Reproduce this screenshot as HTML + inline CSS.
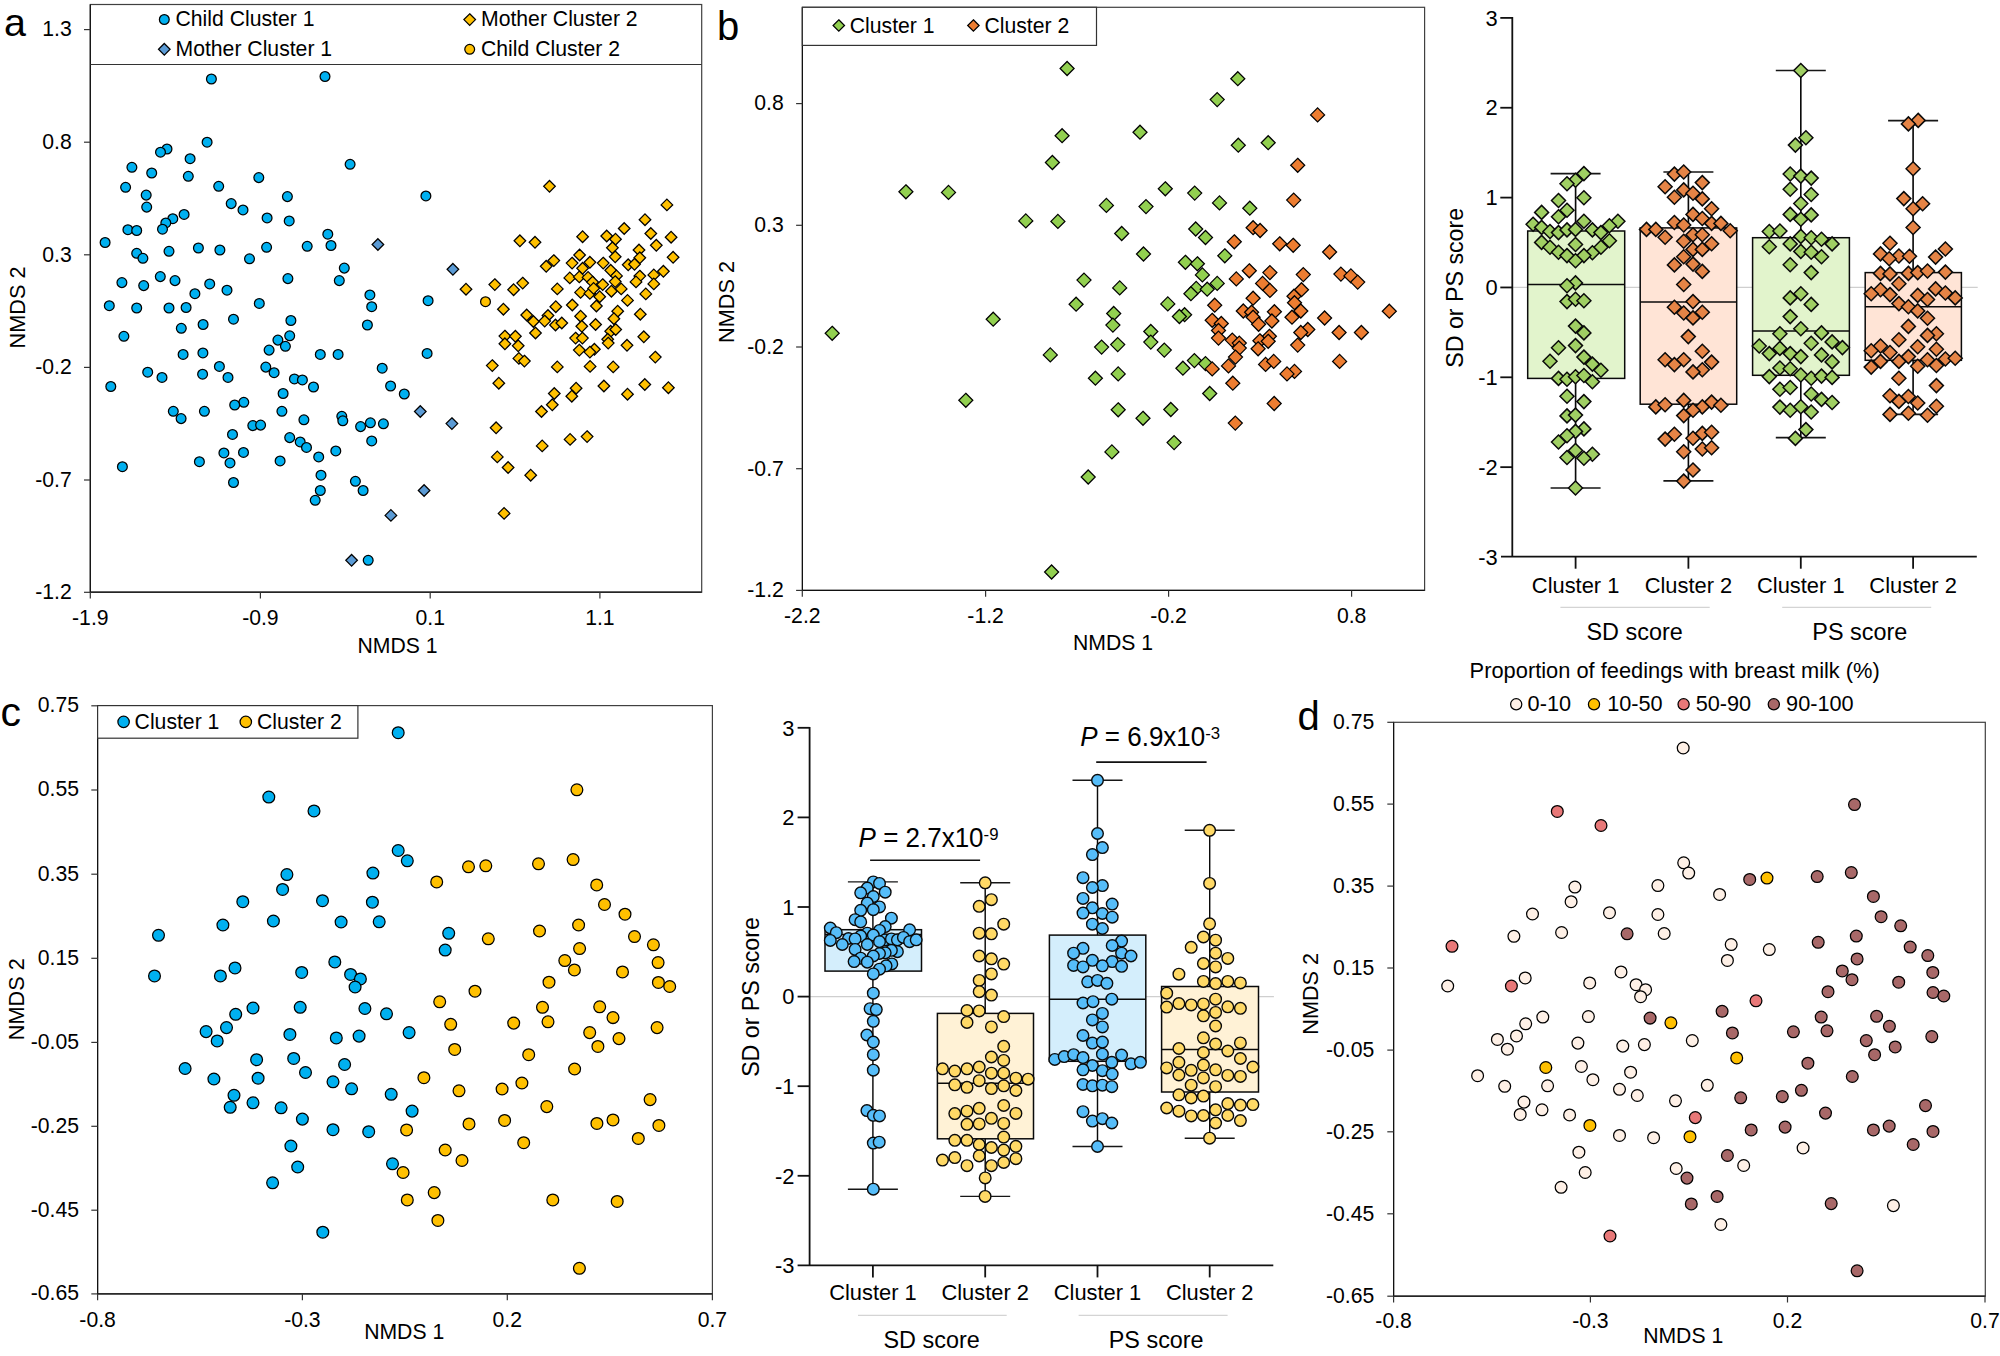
<!DOCTYPE html>
<html><head><meta charset="utf-8"><title>Figure</title>
<style>html,body{margin:0;padding:0;background:#fff}svg{display:block}</style></head>
<body><svg width="2000" height="1356" viewBox="0 0 2000 1356" font-family='"Liberation Sans", Arial, Helvetica, sans-serif' fill="#000">
<rect width="2000" height="1356" fill="#fff"/>
<text transform="translate(4 35.7) scale(1 1)" font-size="39.5" text-anchor="start">a</text>
<rect x="90.3" y="4.5" width="611.4000000000001" height="587.7" fill="none" stroke="#404040" stroke-width="1.2"/>
<path d="M90.3 4.5V592.2H701.7" fill="none" stroke="#111" stroke-width="1.2"/>
<line x1="90.3" y1="592.2" x2="90.3" y2="598.5" stroke="#333" stroke-width="1.2"/>
<text transform="translate(90.3 624.9) scale(1 1.035)" font-size="21.2" text-anchor="middle">-1.9</text>
<line x1="260.4" y1="592.2" x2="260.4" y2="598.5" stroke="#333" stroke-width="1.2"/>
<text transform="translate(260.4 624.9) scale(1 1.035)" font-size="21.2" text-anchor="middle">-0.9</text>
<line x1="430.2" y1="592.2" x2="430.2" y2="598.5" stroke="#333" stroke-width="1.2"/>
<text transform="translate(430.2 624.9) scale(1 1.035)" font-size="21.2" text-anchor="middle">0.1</text>
<line x1="599.9" y1="592.2" x2="599.9" y2="598.5" stroke="#333" stroke-width="1.2"/>
<text transform="translate(599.9 624.9) scale(1 1.035)" font-size="21.2" text-anchor="middle">1.1</text>
<line x1="84.0" y1="29.6" x2="90.3" y2="29.6" stroke="#333" stroke-width="1.2"/>
<text transform="translate(71.7 36.4) scale(1 1.035)" font-size="21.2" text-anchor="end">1.3</text>
<line x1="84.0" y1="142.2" x2="90.3" y2="142.2" stroke="#333" stroke-width="1.2"/>
<text transform="translate(71.7 149.0) scale(1 1.035)" font-size="21.2" text-anchor="end">0.8</text>
<line x1="84.0" y1="254.8" x2="90.3" y2="254.8" stroke="#333" stroke-width="1.2"/>
<text transform="translate(71.7 261.6) scale(1 1.035)" font-size="21.2" text-anchor="end">0.3</text>
<line x1="84.0" y1="367.4" x2="90.3" y2="367.4" stroke="#333" stroke-width="1.2"/>
<text transform="translate(71.7 374.2) scale(1 1.035)" font-size="21.2" text-anchor="end">-0.2</text>
<line x1="84.0" y1="480.0" x2="90.3" y2="480.0" stroke="#333" stroke-width="1.2"/>
<text transform="translate(71.7 486.8) scale(1 1.035)" font-size="21.2" text-anchor="end">-0.7</text>
<line x1="84.0" y1="592.3" x2="90.3" y2="592.3" stroke="#333" stroke-width="1.2"/>
<text transform="translate(71.7 599.1) scale(1 1.035)" font-size="21.2" text-anchor="end">-1.2</text>
<line x1="90.3" y1="64.5" x2="701.7" y2="64.5" stroke="#333" stroke-width="1.2"/>
<g fill="#00b0f0" stroke="#000" stroke-width="1.25">
<circle cx="164.3" cy="19.5" r="4.9"/>
</g>
<text transform="translate(175.5 26.4) scale(1 1.035)" font-size="21.2" text-anchor="start">Child Cluster 1</text>
<g fill="#5b9bd5" stroke="#000" stroke-width="1.25" stroke-linejoin="miter">
<path d="M164.3 43.5l5.8 5.8l-5.8 5.8l-5.8 -5.8z"/>
</g>
<text transform="translate(175.5 55.9) scale(1 1.035)" font-size="21.2" text-anchor="start">Mother Cluster 1</text>
<g fill="#ffc000" stroke="#000" stroke-width="1.25" stroke-linejoin="miter">
<path d="M469.7 13.8l5.8 5.8l-5.8 5.8l-5.8 -5.8z"/>
</g>
<text transform="translate(481 26.4) scale(1 1.035)" font-size="21.2" text-anchor="start">Mother Cluster 2</text>
<g fill="#ffc000" stroke="#000" stroke-width="1.25">
<circle cx="469.7" cy="49.3" r="4.9"/>
</g>
<text transform="translate(481 55.9) scale(1 1.035)" font-size="21.2" text-anchor="start">Child Cluster 2</text>
<text transform="translate(25 307.5) rotate(-90) scale(1 1.01)" font-size="21.7" text-anchor="middle">NMDS 2</text>
<text transform="translate(397.6 653) scale(1 1.035)" font-size="21.2" text-anchor="middle">NMDS 1</text>
<g fill="#00b0f0" stroke="#000" stroke-width="1.25">
<circle cx="211.4" cy="79.0" r="4.9"/><circle cx="325.0" cy="76.5" r="4.9"/><circle cx="207.1" cy="142.2" r="4.9"/><circle cx="167.0" cy="149.0" r="4.9"/><circle cx="160.5" cy="152.2" r="4.9"/><circle cx="190.1" cy="158.7" r="4.9"/><circle cx="131.9" cy="167.3" r="4.9"/><circle cx="151.7" cy="173.0" r="4.9"/><circle cx="188.3" cy="176.3" r="4.9"/><circle cx="258.8" cy="177.6" r="4.9"/><circle cx="350.1" cy="164.3" r="4.9"/><circle cx="125.6" cy="187.3" r="4.9"/><circle cx="218.7" cy="186.3" r="4.9"/><circle cx="146.2" cy="195.1" r="4.9"/><circle cx="287.4" cy="196.6" r="4.9"/><circle cx="146.7" cy="207.1" r="4.9"/><circle cx="231.2" cy="203.6" r="4.9"/><circle cx="243.0" cy="209.9" r="4.9"/><circle cx="184.1" cy="214.4" r="4.9"/><circle cx="172.8" cy="218.7" r="4.9"/><circle cx="267.1" cy="217.9" r="4.9"/><circle cx="289.2" cy="220.9" r="4.9"/><circle cx="165.8" cy="222.9" r="4.9"/><circle cx="162.5" cy="229.2" r="4.9"/><circle cx="127.9" cy="229.7" r="4.9"/><circle cx="136.7" cy="230.5" r="4.9"/><circle cx="327.8" cy="234.2" r="4.9"/><circle cx="105.1" cy="242.5" r="4.9"/><circle cx="331.0" cy="245.5" r="4.9"/><circle cx="198.4" cy="248.0" r="4.9"/><circle cx="219.9" cy="250.0" r="4.9"/><circle cx="266.6" cy="247.3" r="4.9"/><circle cx="307.2" cy="246.3" r="4.9"/><circle cx="169.0" cy="251.3" r="4.9"/><circle cx="136.7" cy="253.3" r="4.9"/><circle cx="142.9" cy="258.3" r="4.9"/><circle cx="249.5" cy="258.8" r="4.9"/><circle cx="344.3" cy="268.1" r="4.9"/><circle cx="160.3" cy="276.6" r="4.9"/><circle cx="175.0" cy="280.6" r="4.9"/><circle cx="121.9" cy="282.6" r="4.9"/><circle cx="143.7" cy="285.6" r="4.9"/><circle cx="209.7" cy="283.9" r="4.9"/><circle cx="287.9" cy="278.6" r="4.9"/><circle cx="339.3" cy="280.6" r="4.9"/><circle cx="227.0" cy="290.2" r="4.9"/><circle cx="194.9" cy="293.7" r="4.9"/><circle cx="369.9" cy="294.9" r="4.9"/><circle cx="109.3" cy="305.7" r="4.9"/><circle cx="136.7" cy="308.0" r="4.9"/><circle cx="169.0" cy="308.0" r="4.9"/><circle cx="186.1" cy="307.5" r="4.9"/><circle cx="259.3" cy="303.4" r="4.9"/><circle cx="371.7" cy="306.7" r="4.9"/><circle cx="233.5" cy="319.2" r="4.9"/><circle cx="290.9" cy="320.5" r="4.9"/><circle cx="203.1" cy="324.5" r="4.9"/><circle cx="181.3" cy="328.3" r="4.9"/><circle cx="367.4" cy="325.0" r="4.9"/><circle cx="123.9" cy="336.3" r="4.9"/><circle cx="289.7" cy="335.8" r="4.9"/><circle cx="277.9" cy="340.1" r="4.9"/><circle cx="285.4" cy="346.3" r="4.9"/><circle cx="269.1" cy="350.1" r="4.9"/><circle cx="183.1" cy="354.4" r="4.9"/><circle cx="202.9" cy="352.9" r="4.9"/><circle cx="320.3" cy="354.4" r="4.9"/><circle cx="338.1" cy="354.4" r="4.9"/><circle cx="219.4" cy="366.4" r="4.9"/><circle cx="265.8" cy="367.1" r="4.9"/><circle cx="382.2" cy="368.2" r="4.9"/><circle cx="147.7" cy="372.2" r="4.9"/><circle cx="202.6" cy="374.2" r="4.9"/><circle cx="274.1" cy="372.7" r="4.9"/><circle cx="162.0" cy="377.4" r="4.9"/><circle cx="228.0" cy="377.4" r="4.9"/><circle cx="294.4" cy="378.9" r="4.9"/><circle cx="302.4" cy="379.9" r="4.9"/><circle cx="110.8" cy="386.5" r="4.9"/><circle cx="313.5" cy="387.0" r="4.9"/><circle cx="390.6" cy="386.0" r="4.9"/><circle cx="283.1" cy="393.5" r="4.9"/><circle cx="243.8" cy="402.3" r="4.9"/><circle cx="234.7" cy="405.0" r="4.9"/><circle cx="173.3" cy="411.3" r="4.9"/><circle cx="204.4" cy="411.3" r="4.9"/><circle cx="281.9" cy="411.3" r="4.9"/><circle cx="181.1" cy="418.6" r="4.9"/><circle cx="303.9" cy="419.8" r="4.9"/><circle cx="341.8" cy="416.3" r="4.9"/><circle cx="342.8" cy="420.8" r="4.9"/><circle cx="370.4" cy="422.8" r="4.9"/><circle cx="383.4" cy="423.8" r="4.9"/><circle cx="252.8" cy="425.6" r="4.9"/><circle cx="260.6" cy="425.1" r="4.9"/><circle cx="360.6" cy="426.6" r="4.9"/><circle cx="232.5" cy="434.4" r="4.9"/><circle cx="289.7" cy="437.6" r="4.9"/><circle cx="300.2" cy="441.9" r="4.9"/><circle cx="371.7" cy="440.9" r="4.9"/><circle cx="306.5" cy="447.4" r="4.9"/><circle cx="335.8" cy="450.9" r="4.9"/><circle cx="223.9" cy="452.9" r="4.9"/><circle cx="243.5" cy="452.4" r="4.9"/><circle cx="318.7" cy="456.9" r="4.9"/><circle cx="199.4" cy="461.7" r="4.9"/><circle cx="230.0" cy="462.9" r="4.9"/><circle cx="280.1" cy="460.9" r="4.9"/><circle cx="122.4" cy="466.7" r="4.9"/><circle cx="321.0" cy="475.2" r="4.9"/><circle cx="233.5" cy="482.5" r="4.9"/><circle cx="355.4" cy="481.3" r="4.9"/><circle cx="363.1" cy="490.5" r="4.9"/><circle cx="320.3" cy="490.5" r="4.9"/><circle cx="315.2" cy="500.3" r="4.9"/><circle cx="368.2" cy="560.3" r="4.9"/><circle cx="425.9" cy="195.9" r="4.9"/><circle cx="428.1" cy="300.7" r="4.9"/><circle cx="427.1" cy="353.4" r="4.9"/><circle cx="404.3" cy="394.0" r="4.9"/>
</g>
<g fill="#ffc000" stroke="#000" stroke-width="1.25">
<circle cx="485.5" cy="301.7" r="4.9"/>
</g>
<g fill="#5b9bd5" stroke="#000" stroke-width="1.25" stroke-linejoin="miter">
<path d="M377.9 238.7l5.8 5.8l-5.8 5.8l-5.8 -5.8z"/><path d="M390.9 509.6l5.8 5.8l-5.8 5.8l-5.8 -5.8z"/><path d="M351.6 554.5l5.8 5.8l-5.8 5.8l-5.8 -5.8z"/><path d="M452.9 263.5l5.8 5.8l-5.8 5.8l-5.8 -5.8z"/><path d="M420.3 405.7l5.8 5.8l-5.8 5.8l-5.8 -5.8z"/><path d="M451.9 417.8l5.8 5.8l-5.8 5.8l-5.8 -5.8z"/><path d="M424.1 484.7l5.8 5.8l-5.8 5.8l-5.8 -5.8z"/>
</g>
<g fill="#ffc000" stroke="#000" stroke-width="1.25" stroke-linejoin="miter">
<path d="M549.5 180.5l5.8 5.8l-5.8 5.8l-5.8 -5.8z"/><path d="M666.9 199.1l5.8 5.8l-5.8 5.8l-5.8 -5.8z"/><path d="M645.0 213.9l5.8 5.8l-5.8 5.8l-5.8 -5.8z"/><path d="M624.2 222.7l5.8 5.8l-5.8 5.8l-5.8 -5.8z"/><path d="M582.6 230.9l5.8 5.8l-5.8 5.8l-5.8 -5.8z"/><path d="M606.7 230.2l5.8 5.8l-5.8 5.8l-5.8 -5.8z"/><path d="M615.5 233.4l5.8 5.8l-5.8 5.8l-5.8 -5.8z"/><path d="M650.8 227.7l5.8 5.8l-5.8 5.8l-5.8 -5.8z"/><path d="M671.1 231.4l5.8 5.8l-5.8 5.8l-5.8 -5.8z"/><path d="M519.9 235.0l5.8 5.8l-5.8 5.8l-5.8 -5.8z"/><path d="M535.0 236.5l5.8 5.8l-5.8 5.8l-5.8 -5.8z"/><path d="M612.4 242.0l5.8 5.8l-5.8 5.8l-5.8 -5.8z"/><path d="M639.0 244.2l5.8 5.8l-5.8 5.8l-5.8 -5.8z"/><path d="M656.3 239.5l5.8 5.8l-5.8 5.8l-5.8 -5.8z"/><path d="M579.6 249.2l5.8 5.8l-5.8 5.8l-5.8 -5.8z"/><path d="M615.2 251.0l5.8 5.8l-5.8 5.8l-5.8 -5.8z"/><path d="M673.1 251.5l5.8 5.8l-5.8 5.8l-5.8 -5.8z"/><path d="M639.8 252.0l5.8 5.8l-5.8 5.8l-5.8 -5.8z"/><path d="M553.8 254.8l5.8 5.8l-5.8 5.8l-5.8 -5.8z"/><path d="M546.2 260.5l5.8 5.8l-5.8 5.8l-5.8 -5.8z"/><path d="M572.1 257.3l5.8 5.8l-5.8 5.8l-5.8 -5.8z"/><path d="M589.9 256.5l5.8 5.8l-5.8 5.8l-5.8 -5.8z"/><path d="M603.2 257.3l5.8 5.8l-5.8 5.8l-5.8 -5.8z"/><path d="M628.2 259.0l5.8 5.8l-5.8 5.8l-5.8 -5.8z"/><path d="M634.5 258.5l5.8 5.8l-5.8 5.8l-5.8 -5.8z"/><path d="M582.6 262.5l5.8 5.8l-5.8 5.8l-5.8 -5.8z"/><path d="M610.7 264.5l5.8 5.8l-5.8 5.8l-5.8 -5.8z"/><path d="M663.4 265.5l5.8 5.8l-5.8 5.8l-5.8 -5.8z"/><path d="M616.5 270.1l5.8 5.8l-5.8 5.8l-5.8 -5.8z"/><path d="M639.8 270.3l5.8 5.8l-5.8 5.8l-5.8 -5.8z"/><path d="M653.8 269.1l5.8 5.8l-5.8 5.8l-5.8 -5.8z"/><path d="M569.8 272.1l5.8 5.8l-5.8 5.8l-5.8 -5.8z"/><path d="M579.3 271.1l5.8 5.8l-5.8 5.8l-5.8 -5.8z"/><path d="M588.1 271.6l5.8 5.8l-5.8 5.8l-5.8 -5.8z"/><path d="M592.6 276.3l5.8 5.8l-5.8 5.8l-5.8 -5.8z"/><path d="M602.7 278.8l5.8 5.8l-5.8 5.8l-5.8 -5.8z"/><path d="M615.2 275.8l5.8 5.8l-5.8 5.8l-5.8 -5.8z"/><path d="M636.0 276.1l5.8 5.8l-5.8 5.8l-5.8 -5.8z"/><path d="M653.8 278.1l5.8 5.8l-5.8 5.8l-5.8 -5.8z"/><path d="M494.8 278.8l5.8 5.8l-5.8 5.8l-5.8 -5.8z"/><path d="M522.7 277.3l5.8 5.8l-5.8 5.8l-5.8 -5.8z"/><path d="M466.0 283.4l5.8 5.8l-5.8 5.8l-5.8 -5.8z"/><path d="M513.6 283.9l5.8 5.8l-5.8 5.8l-5.8 -5.8z"/><path d="M557.3 283.1l5.8 5.8l-5.8 5.8l-5.8 -5.8z"/><path d="M580.6 286.6l5.8 5.8l-5.8 5.8l-5.8 -5.8z"/><path d="M589.9 287.6l5.8 5.8l-5.8 5.8l-5.8 -5.8z"/><path d="M593.6 282.6l5.8 5.8l-5.8 5.8l-5.8 -5.8z"/><path d="M611.4 285.4l5.8 5.8l-5.8 5.8l-5.8 -5.8z"/><path d="M621.2 283.1l5.8 5.8l-5.8 5.8l-5.8 -5.8z"/><path d="M599.7 290.9l5.8 5.8l-5.8 5.8l-5.8 -5.8z"/><path d="M645.8 288.1l5.8 5.8l-5.8 5.8l-5.8 -5.8z"/><path d="M627.5 294.6l5.8 5.8l-5.8 5.8l-5.8 -5.8z"/><path d="M572.3 299.2l5.8 5.8l-5.8 5.8l-5.8 -5.8z"/><path d="M596.4 300.2l5.8 5.8l-5.8 5.8l-5.8 -5.8z"/><path d="M555.8 300.9l5.8 5.8l-5.8 5.8l-5.8 -5.8z"/><path d="M503.4 303.4l5.8 5.8l-5.8 5.8l-5.8 -5.8z"/><path d="M617.7 305.4l5.8 5.8l-5.8 5.8l-5.8 -5.8z"/><path d="M640.3 308.4l5.8 5.8l-5.8 5.8l-5.8 -5.8z"/><path d="M526.7 309.2l5.8 5.8l-5.8 5.8l-5.8 -5.8z"/><path d="M548.0 309.7l5.8 5.8l-5.8 5.8l-5.8 -5.8z"/><path d="M580.6 310.4l5.8 5.8l-5.8 5.8l-5.8 -5.8z"/><path d="M613.9 312.9l5.8 5.8l-5.8 5.8l-5.8 -5.8z"/><path d="M533.4 315.7l5.8 5.8l-5.8 5.8l-5.8 -5.8z"/><path d="M544.7 315.3l5.8 5.8l-5.8 5.8l-5.8 -5.8z"/><path d="M555.5 319.2l5.8 5.8l-5.8 5.8l-5.8 -5.8z"/><path d="M561.8 317.2l5.8 5.8l-5.8 5.8l-5.8 -5.8z"/><path d="M581.8 320.5l5.8 5.8l-5.8 5.8l-5.8 -5.8z"/><path d="M595.6 318.7l5.8 5.8l-5.8 5.8l-5.8 -5.8z"/><path d="M610.7 325.5l5.8 5.8l-5.8 5.8l-5.8 -5.8z"/><path d="M615.7 323.7l5.8 5.8l-5.8 5.8l-5.8 -5.8z"/><path d="M535.5 327.2l5.8 5.8l-5.8 5.8l-5.8 -5.8z"/><path d="M504.9 330.3l5.8 5.8l-5.8 5.8l-5.8 -5.8z"/><path d="M515.4 330.5l5.8 5.8l-5.8 5.8l-5.8 -5.8z"/><path d="M643.8 331.0l5.8 5.8l-5.8 5.8l-5.8 -5.8z"/><path d="M575.6 332.3l5.8 5.8l-5.8 5.8l-5.8 -5.8z"/><path d="M582.4 332.3l5.8 5.8l-5.8 5.8l-5.8 -5.8z"/><path d="M607.7 333.5l5.8 5.8l-5.8 5.8l-5.8 -5.8z"/><path d="M504.9 338.0l5.8 5.8l-5.8 5.8l-5.8 -5.8z"/><path d="M518.2 340.0l5.8 5.8l-5.8 5.8l-5.8 -5.8z"/><path d="M608.2 337.3l5.8 5.8l-5.8 5.8l-5.8 -5.8z"/><path d="M627.0 339.5l5.8 5.8l-5.8 5.8l-5.8 -5.8z"/><path d="M579.3 344.3l5.8 5.8l-5.8 5.8l-5.8 -5.8z"/><path d="M594.4 343.5l5.8 5.8l-5.8 5.8l-5.8 -5.8z"/><path d="M589.9 346.3l5.8 5.8l-5.8 5.8l-5.8 -5.8z"/><path d="M655.3 351.3l5.8 5.8l-5.8 5.8l-5.8 -5.8z"/><path d="M518.9 352.6l5.8 5.8l-5.8 5.8l-5.8 -5.8z"/><path d="M524.4 355.3l5.8 5.8l-5.8 5.8l-5.8 -5.8z"/><path d="M492.3 359.8l5.8 5.8l-5.8 5.8l-5.8 -5.8z"/><path d="M557.3 361.1l5.8 5.8l-5.8 5.8l-5.8 -5.8z"/><path d="M590.1 360.6l5.8 5.8l-5.8 5.8l-5.8 -5.8z"/><path d="M613.2 361.1l5.8 5.8l-5.8 5.8l-5.8 -5.8z"/><path d="M498.8 377.4l5.8 5.8l-5.8 5.8l-5.8 -5.8z"/><path d="M603.9 380.2l5.8 5.8l-5.8 5.8l-5.8 -5.8z"/><path d="M644.8 378.7l5.8 5.8l-5.8 5.8l-5.8 -5.8z"/><path d="M668.4 381.9l5.8 5.8l-5.8 5.8l-5.8 -5.8z"/><path d="M576.1 382.4l5.8 5.8l-5.8 5.8l-5.8 -5.8z"/><path d="M554.3 387.7l5.8 5.8l-5.8 5.8l-5.8 -5.8z"/><path d="M627.5 388.4l5.8 5.8l-5.8 5.8l-5.8 -5.8z"/><path d="M571.8 390.4l5.8 5.8l-5.8 5.8l-5.8 -5.8z"/><path d="M552.3 399.0l5.8 5.8l-5.8 5.8l-5.8 -5.8z"/><path d="M541.5 405.7l5.8 5.8l-5.8 5.8l-5.8 -5.8z"/><path d="M496.1 422.0l5.8 5.8l-5.8 5.8l-5.8 -5.8z"/><path d="M587.1 430.8l5.8 5.8l-5.8 5.8l-5.8 -5.8z"/><path d="M570.1 433.6l5.8 5.8l-5.8 5.8l-5.8 -5.8z"/><path d="M542.2 440.1l5.8 5.8l-5.8 5.8l-5.8 -5.8z"/><path d="M497.3 451.1l5.8 5.8l-5.8 5.8l-5.8 -5.8z"/><path d="M508.1 461.7l5.8 5.8l-5.8 5.8l-5.8 -5.8z"/><path d="M530.7 469.4l5.8 5.8l-5.8 5.8l-5.8 -5.8z"/><path d="M504.1 507.6l5.8 5.8l-5.8 5.8l-5.8 -5.8z"/>
</g>
<text transform="translate(717 40) scale(1 1)" font-size="40" text-anchor="start">b</text>
<rect x="802.4" y="7.3" width="622.1999999999999" height="583.1" fill="none" stroke="#404040" stroke-width="1.2"/>
<path d="M802.4 7.3V590.4H1424.6" fill="none" stroke="#111" stroke-width="1.2"/>
<line x1="802.3" y1="590.4" x2="802.3" y2="596.6999999999999" stroke="#333" stroke-width="1.2"/>
<text transform="translate(802.3 623.1) scale(1 1.035)" font-size="21.2" text-anchor="middle">-2.2</text>
<line x1="985.6" y1="590.4" x2="985.6" y2="596.6999999999999" stroke="#333" stroke-width="1.2"/>
<text transform="translate(985.6 623.1) scale(1 1.035)" font-size="21.2" text-anchor="middle">-1.2</text>
<line x1="1168.6" y1="590.4" x2="1168.6" y2="596.6999999999999" stroke="#333" stroke-width="1.2"/>
<text transform="translate(1168.6 623.1) scale(1 1.035)" font-size="21.2" text-anchor="middle">-0.2</text>
<line x1="1351.6" y1="590.4" x2="1351.6" y2="596.6999999999999" stroke="#333" stroke-width="1.2"/>
<text transform="translate(1351.6 623.1) scale(1 1.035)" font-size="21.2" text-anchor="middle">0.8</text>
<line x1="796.1" y1="103.6" x2="802.4" y2="103.6" stroke="#333" stroke-width="1.2"/>
<text transform="translate(783.8 110.4) scale(1 1.035)" font-size="21.2" text-anchor="end">0.8</text>
<line x1="796.1" y1="225.3" x2="802.4" y2="225.3" stroke="#333" stroke-width="1.2"/>
<text transform="translate(783.8 232.1) scale(1 1.035)" font-size="21.2" text-anchor="end">0.3</text>
<line x1="796.1" y1="347.0" x2="802.4" y2="347.0" stroke="#333" stroke-width="1.2"/>
<text transform="translate(783.8 353.8) scale(1 1.035)" font-size="21.2" text-anchor="end">-0.2</text>
<line x1="796.1" y1="468.7" x2="802.4" y2="468.7" stroke="#333" stroke-width="1.2"/>
<text transform="translate(783.8 475.5) scale(1 1.035)" font-size="21.2" text-anchor="end">-0.7</text>
<line x1="796.1" y1="590.4" x2="802.4" y2="590.4" stroke="#333" stroke-width="1.2"/>
<text transform="translate(783.8 597.2) scale(1 1.035)" font-size="21.2" text-anchor="end">-1.2</text>
<rect x="802.4" y="7.3" width="294.1" height="38.1" fill="#fff" stroke="#333" stroke-width="1.2"/>
<g fill="#92d050" stroke="#000" stroke-width="1.25" stroke-linejoin="miter">
<path d="M838.8 19.8l5.7 5.7l-5.7 5.7l-5.7 -5.7z"/>
</g>
<text transform="translate(849.8 33) scale(1 1.035)" font-size="21.2" text-anchor="start">Cluster 1</text>
<g fill="#ed7d31" stroke="#000" stroke-width="1.25" stroke-linejoin="miter">
<path d="M973.4 19.8l5.7 5.7l-5.7 5.7l-5.7 -5.7z"/>
</g>
<text transform="translate(984.4 33) scale(1 1.035)" font-size="21.2" text-anchor="start">Cluster 2</text>
<text transform="translate(734 302) rotate(-90) scale(1 1.01)" font-size="21.7" text-anchor="middle">NMDS 2</text>
<text transform="translate(1113 649.5) scale(1 1.035)" font-size="21.2" text-anchor="middle">NMDS 1</text>
<g fill="#92d050" stroke="#000" stroke-width="1.25" stroke-linejoin="miter">
<path d="M1067.1 61.5l7.0 7.0l-7.0 7.0l-7.0 -7.0z"/><path d="M1062.1 128.7l7.0 7.0l-7.0 7.0l-7.0 -7.0z"/><path d="M1052.4 155.5l7.0 7.0l-7.0 7.0l-7.0 -7.0z"/><path d="M905.9 184.8l7.0 7.0l-7.0 7.0l-7.0 -7.0z"/><path d="M948.5 185.4l7.0 7.0l-7.0 7.0l-7.0 -7.0z"/><path d="M1025.8 213.9l7.0 7.0l-7.0 7.0l-7.0 -7.0z"/><path d="M1057.9 214.4l7.0 7.0l-7.0 7.0l-7.0 -7.0z"/><path d="M1084.0 273.1l7.0 7.0l-7.0 7.0l-7.0 -7.0z"/><path d="M1076.1 297.2l7.0 7.0l-7.0 7.0l-7.0 -7.0z"/><path d="M993.2 312.2l7.0 7.0l-7.0 7.0l-7.0 -7.0z"/><path d="M832.2 326.3l7.0 7.0l-7.0 7.0l-7.0 -7.0z"/><path d="M1050.3 347.9l7.0 7.0l-7.0 7.0l-7.0 -7.0z"/><path d="M965.8 393.3l7.0 7.0l-7.0 7.0l-7.0 -7.0z"/><path d="M1088.2 470.0l7.0 7.0l-7.0 7.0l-7.0 -7.0z"/><path d="M1051.6 565.0l7.0 7.0l-7.0 7.0l-7.0 -7.0z"/><path d="M1237.8 71.7l7.0 7.0l-7.0 7.0l-7.0 -7.0z"/><path d="M1217.2 92.6l7.0 7.0l-7.0 7.0l-7.0 -7.0z"/><path d="M1140.0 125.2l7.0 7.0l-7.0 7.0l-7.0 -7.0z"/><path d="M1238.3 138.2l7.0 7.0l-7.0 7.0l-7.0 -7.0z"/><path d="M1268.2 135.7l7.0 7.0l-7.0 7.0l-7.0 -7.0z"/><path d="M1165.3 181.8l7.0 7.0l-7.0 7.0l-7.0 -7.0z"/><path d="M1194.7 186.1l7.0 7.0l-7.0 7.0l-7.0 -7.0z"/><path d="M1106.4 198.4l7.0 7.0l-7.0 7.0l-7.0 -7.0z"/><path d="M1146.0 199.6l7.0 7.0l-7.0 7.0l-7.0 -7.0z"/><path d="M1219.5 195.9l7.0 7.0l-7.0 7.0l-7.0 -7.0z"/><path d="M1249.8 201.2l7.0 7.0l-7.0 7.0l-7.0 -7.0z"/><path d="M1195.7 222.0l7.0 7.0l-7.0 7.0l-7.0 -7.0z"/><path d="M1121.7 226.5l7.0 7.0l-7.0 7.0l-7.0 -7.0z"/><path d="M1205.5 230.5l7.0 7.0l-7.0 7.0l-7.0 -7.0z"/><path d="M1143.5 247.0l7.0 7.0l-7.0 7.0l-7.0 -7.0z"/><path d="M1224.8 248.8l7.0 7.0l-7.0 7.0l-7.0 -7.0z"/><path d="M1185.4 255.3l7.0 7.0l-7.0 7.0l-7.0 -7.0z"/><path d="M1197.4 256.8l7.0 7.0l-7.0 7.0l-7.0 -7.0z"/><path d="M1202.4 267.9l7.0 7.0l-7.0 7.0l-7.0 -7.0z"/><path d="M1119.7 280.9l7.0 7.0l-7.0 7.0l-7.0 -7.0z"/><path d="M1217.2 276.4l7.0 7.0l-7.0 7.0l-7.0 -7.0z"/><path d="M1196.2 281.4l7.0 7.0l-7.0 7.0l-7.0 -7.0z"/><path d="M1207.2 282.2l7.0 7.0l-7.0 7.0l-7.0 -7.0z"/><path d="M1190.9 286.7l7.0 7.0l-7.0 7.0l-7.0 -7.0z"/><path d="M1167.8 296.9l7.0 7.0l-7.0 7.0l-7.0 -7.0z"/><path d="M1113.7 306.5l7.0 7.0l-7.0 7.0l-7.0 -7.0z"/><path d="M1184.6 307.7l7.0 7.0l-7.0 7.0l-7.0 -7.0z"/><path d="M1179.4 309.5l7.0 7.0l-7.0 7.0l-7.0 -7.0z"/><path d="M1112.9 318.1l7.0 7.0l-7.0 7.0l-7.0 -7.0z"/><path d="M1150.8 324.5l7.0 7.0l-7.0 7.0l-7.0 -7.0z"/><path d="M1150.8 335.1l7.0 7.0l-7.0 7.0l-7.0 -7.0z"/><path d="M1101.6 340.1l7.0 7.0l-7.0 7.0l-7.0 -7.0z"/><path d="M1117.7 337.6l7.0 7.0l-7.0 7.0l-7.0 -7.0z"/><path d="M1164.3 343.1l7.0 7.0l-7.0 7.0l-7.0 -7.0z"/><path d="M1194.4 353.6l7.0 7.0l-7.0 7.0l-7.0 -7.0z"/><path d="M1205.5 356.6l7.0 7.0l-7.0 7.0l-7.0 -7.0z"/><path d="M1182.9 361.2l7.0 7.0l-7.0 7.0l-7.0 -7.0z"/><path d="M1118.2 366.9l7.0 7.0l-7.0 7.0l-7.0 -7.0z"/><path d="M1095.4 371.2l7.0 7.0l-7.0 7.0l-7.0 -7.0z"/><path d="M1209.7 386.5l7.0 7.0l-7.0 7.0l-7.0 -7.0z"/><path d="M1118.2 402.8l7.0 7.0l-7.0 7.0l-7.0 -7.0z"/><path d="M1170.8 402.5l7.0 7.0l-7.0 7.0l-7.0 -7.0z"/><path d="M1143.0 411.3l7.0 7.0l-7.0 7.0l-7.0 -7.0z"/><path d="M1174.1 435.6l7.0 7.0l-7.0 7.0l-7.0 -7.0z"/><path d="M1111.9 444.9l7.0 7.0l-7.0 7.0l-7.0 -7.0z"/>
</g>
<g fill="#ed7d31" stroke="#000" stroke-width="1.25" stroke-linejoin="miter">
<path d="M1317.6 107.9l7.0 7.0l-7.0 7.0l-7.0 -7.0z"/><path d="M1297.7 158.3l7.0 7.0l-7.0 7.0l-7.0 -7.0z"/><path d="M1293.7 193.1l7.0 7.0l-7.0 7.0l-7.0 -7.0z"/><path d="M1253.1 220.7l7.0 7.0l-7.0 7.0l-7.0 -7.0z"/><path d="M1260.1 223.5l7.0 7.0l-7.0 7.0l-7.0 -7.0z"/><path d="M1234.3 234.8l7.0 7.0l-7.0 7.0l-7.0 -7.0z"/><path d="M1279.7 236.8l7.0 7.0l-7.0 7.0l-7.0 -7.0z"/><path d="M1293.2 238.3l7.0 7.0l-7.0 7.0l-7.0 -7.0z"/><path d="M1329.6 245.0l7.0 7.0l-7.0 7.0l-7.0 -7.0z"/><path d="M1249.3 263.8l7.0 7.0l-7.0 7.0l-7.0 -7.0z"/><path d="M1269.9 265.6l7.0 7.0l-7.0 7.0l-7.0 -7.0z"/><path d="M1303.3 267.6l7.0 7.0l-7.0 7.0l-7.0 -7.0z"/><path d="M1340.9 267.1l7.0 7.0l-7.0 7.0l-7.0 -7.0z"/><path d="M1350.9 268.9l7.0 7.0l-7.0 7.0l-7.0 -7.0z"/><path d="M1357.7 275.1l7.0 7.0l-7.0 7.0l-7.0 -7.0z"/><path d="M1236.3 271.9l7.0 7.0l-7.0 7.0l-7.0 -7.0z"/><path d="M1262.6 276.4l7.0 7.0l-7.0 7.0l-7.0 -7.0z"/><path d="M1269.9 283.4l7.0 7.0l-7.0 7.0l-7.0 -7.0z"/><path d="M1301.5 282.7l7.0 7.0l-7.0 7.0l-7.0 -7.0z"/><path d="M1294.0 289.2l7.0 7.0l-7.0 7.0l-7.0 -7.0z"/><path d="M1253.1 291.2l7.0 7.0l-7.0 7.0l-7.0 -7.0z"/><path d="M1214.7 298.2l7.0 7.0l-7.0 7.0l-7.0 -7.0z"/><path d="M1294.5 295.7l7.0 7.0l-7.0 7.0l-7.0 -7.0z"/><path d="M1243.3 304.0l7.0 7.0l-7.0 7.0l-7.0 -7.0z"/><path d="M1251.6 305.2l7.0 7.0l-7.0 7.0l-7.0 -7.0z"/><path d="M1274.4 304.7l7.0 7.0l-7.0 7.0l-7.0 -7.0z"/><path d="M1300.8 304.0l7.0 7.0l-7.0 7.0l-7.0 -7.0z"/><path d="M1389.3 304.2l7.0 7.0l-7.0 7.0l-7.0 -7.0z"/><path d="M1212.2 313.3l7.0 7.0l-7.0 7.0l-7.0 -7.0z"/><path d="M1221.3 316.5l7.0 7.0l-7.0 7.0l-7.0 -7.0z"/><path d="M1253.1 310.2l7.0 7.0l-7.0 7.0l-7.0 -7.0z"/><path d="M1258.6 317.3l7.0 7.0l-7.0 7.0l-7.0 -7.0z"/><path d="M1271.9 314.0l7.0 7.0l-7.0 7.0l-7.0 -7.0z"/><path d="M1292.0 310.2l7.0 7.0l-7.0 7.0l-7.0 -7.0z"/><path d="M1324.6 311.0l7.0 7.0l-7.0 7.0l-7.0 -7.0z"/><path d="M1307.8 322.5l7.0 7.0l-7.0 7.0l-7.0 -7.0z"/><path d="M1300.8 325.5l7.0 7.0l-7.0 7.0l-7.0 -7.0z"/><path d="M1339.1 325.5l7.0 7.0l-7.0 7.0l-7.0 -7.0z"/><path d="M1361.4 325.5l7.0 7.0l-7.0 7.0l-7.0 -7.0z"/><path d="M1218.5 323.5l7.0 7.0l-7.0 7.0l-7.0 -7.0z"/><path d="M1218.5 331.1l7.0 7.0l-7.0 7.0l-7.0 -7.0z"/><path d="M1269.4 329.3l7.0 7.0l-7.0 7.0l-7.0 -7.0z"/><path d="M1232.3 333.1l7.0 7.0l-7.0 7.0l-7.0 -7.0z"/><path d="M1239.3 336.1l7.0 7.0l-7.0 7.0l-7.0 -7.0z"/><path d="M1259.9 333.8l7.0 7.0l-7.0 7.0l-7.0 -7.0z"/><path d="M1268.2 334.3l7.0 7.0l-7.0 7.0l-7.0 -7.0z"/><path d="M1258.1 341.8l7.0 7.0l-7.0 7.0l-7.0 -7.0z"/><path d="M1239.3 341.1l7.0 7.0l-7.0 7.0l-7.0 -7.0z"/><path d="M1297.7 338.1l7.0 7.0l-7.0 7.0l-7.0 -7.0z"/><path d="M1235.5 350.1l7.0 7.0l-7.0 7.0l-7.0 -7.0z"/><path d="M1228.5 358.9l7.0 7.0l-7.0 7.0l-7.0 -7.0z"/><path d="M1212.2 361.9l7.0 7.0l-7.0 7.0l-7.0 -7.0z"/><path d="M1265.6 357.4l7.0 7.0l-7.0 7.0l-7.0 -7.0z"/><path d="M1273.7 354.4l7.0 7.0l-7.0 7.0l-7.0 -7.0z"/><path d="M1339.6 354.4l7.0 7.0l-7.0 7.0l-7.0 -7.0z"/><path d="M1294.5 364.4l7.0 7.0l-7.0 7.0l-7.0 -7.0z"/><path d="M1287.0 366.9l7.0 7.0l-7.0 7.0l-7.0 -7.0z"/><path d="M1232.8 376.2l7.0 7.0l-7.0 7.0l-7.0 -7.0z"/><path d="M1274.2 396.5l7.0 7.0l-7.0 7.0l-7.0 -7.0z"/><path d="M1235.3 416.1l7.0 7.0l-7.0 7.0l-7.0 -7.0z"/>
</g>
<line x1="1512.3" y1="287.44999999999993" x2="1977.7" y2="287.44999999999993" stroke="#cfcfcf" stroke-width="1.2"/>
<rect x="1527.7" y="231.0" width="97.0" height="147.39999999999998" fill="#e2f4cc" stroke="#0a0a0a" stroke-width="1.5"/>
<line x1="1527.7" y1="284.5" x2="1624.7" y2="284.5" stroke="#0a0a0a" stroke-width="1.5"/>
<line x1="1575.6" y1="173.6" x2="1575.6" y2="231.0" stroke="#0a0a0a" stroke-width="1.65"/>
<line x1="1575.6" y1="378.4" x2="1575.6" y2="488.0" stroke="#0a0a0a" stroke-width="1.65"/>
<line x1="1550.6" y1="173.6" x2="1600.6" y2="173.6" stroke="#161616" stroke-width="1.7"/>
<line x1="1550.6" y1="488.0" x2="1600.6" y2="488.0" stroke="#161616" stroke-width="1.7"/>
<rect x="1640.2" y="227.9" width="96.5" height="176.29999999999998" fill="#ffe4d6" stroke="#0a0a0a" stroke-width="1.5"/>
<line x1="1640.2" y1="302.1" x2="1736.7" y2="302.1" stroke="#0a0a0a" stroke-width="1.5"/>
<line x1="1688.4" y1="172.0" x2="1688.4" y2="227.9" stroke="#0a0a0a" stroke-width="1.65"/>
<line x1="1688.4" y1="404.2" x2="1688.4" y2="480.8" stroke="#0a0a0a" stroke-width="1.65"/>
<line x1="1663.4" y1="172.0" x2="1713.4" y2="172.0" stroke="#161616" stroke-width="1.7"/>
<line x1="1663.4" y1="480.8" x2="1713.4" y2="480.8" stroke="#161616" stroke-width="1.7"/>
<rect x="1752.6" y="237.7" width="96.80000000000018" height="137.60000000000002" fill="#e2f4cc" stroke="#0a0a0a" stroke-width="1.5"/>
<line x1="1752.6" y1="331.0" x2="1849.4" y2="331.0" stroke="#0a0a0a" stroke-width="1.5"/>
<line x1="1800.8" y1="70.5" x2="1800.8" y2="237.7" stroke="#0a0a0a" stroke-width="1.65"/>
<line x1="1800.8" y1="375.3" x2="1800.8" y2="437.7" stroke="#0a0a0a" stroke-width="1.65"/>
<line x1="1775.8" y1="70.5" x2="1825.8" y2="70.5" stroke="#161616" stroke-width="1.7"/>
<line x1="1775.8" y1="437.7" x2="1825.8" y2="437.7" stroke="#161616" stroke-width="1.7"/>
<rect x="1865.2" y="272.6" width="96.20000000000005" height="87.69999999999999" fill="#ffe4d6" stroke="#0a0a0a" stroke-width="1.5"/>
<line x1="1865.2" y1="306.8" x2="1961.4" y2="306.8" stroke="#0a0a0a" stroke-width="1.5"/>
<line x1="1913.1" y1="120.7" x2="1913.1" y2="272.6" stroke="#0a0a0a" stroke-width="1.65"/>
<line x1="1913.1" y1="360.3" x2="1913.1" y2="414.4" stroke="#0a0a0a" stroke-width="1.65"/>
<line x1="1888.1" y1="120.7" x2="1938.1" y2="120.7" stroke="#161616" stroke-width="1.7"/>
<line x1="1888.1" y1="414.4" x2="1938.1" y2="414.4" stroke="#161616" stroke-width="1.7"/>
<g fill="#a0cf63" stroke="#0a0a0a" stroke-width="1.5" stroke-linejoin="miter">
<path d="M1583.9 166.6l7.0 7.0l-7.0 7.0l-7.0 -7.0z"/><path d="M1575.5 173.2l7.0 7.0l-7.0 7.0l-7.0 -7.0z"/><path d="M1567.0 176.7l7.0 7.0l-7.0 7.0l-7.0 -7.0z"/><path d="M1583.9 190.8l7.0 7.0l-7.0 7.0l-7.0 -7.0z"/><path d="M1558.5 193.5l7.0 7.0l-7.0 7.0l-7.0 -7.0z"/><path d="M1567.0 203.3l7.0 7.0l-7.0 7.0l-7.0 -7.0z"/><path d="M1541.6 205.4l7.0 7.0l-7.0 7.0l-7.0 -7.0z"/><path d="M1558.5 209.8l7.0 7.0l-7.0 7.0l-7.0 -7.0z"/><path d="M1533.1 217.2l7.0 7.0l-7.0 7.0l-7.0 -7.0z"/><path d="M1541.6 220.4l7.0 7.0l-7.0 7.0l-7.0 -7.0z"/><path d="M1583.9 214.2l7.0 7.0l-7.0 7.0l-7.0 -7.0z"/><path d="M1617.9 214.2l7.0 7.0l-7.0 7.0l-7.0 -7.0z"/><path d="M1609.4 218.8l7.0 7.0l-7.0 7.0l-7.0 -7.0z"/><path d="M1550.0 224.5l7.0 7.0l-7.0 7.0l-7.0 -7.0z"/><path d="M1558.5 225.6l7.0 7.0l-7.0 7.0l-7.0 -7.0z"/><path d="M1567.0 222.9l7.0 7.0l-7.0 7.0l-7.0 -7.0z"/><path d="M1575.5 222.4l7.0 7.0l-7.0 7.0l-7.0 -7.0z"/><path d="M1592.4 222.9l7.0 7.0l-7.0 7.0l-7.0 -7.0z"/><path d="M1600.9 225.6l7.0 7.0l-7.0 7.0l-7.0 -7.0z"/><path d="M1609.4 233.8l7.0 7.0l-7.0 7.0l-7.0 -7.0z"/><path d="M1541.6 235.4l7.0 7.0l-7.0 7.0l-7.0 -7.0z"/><path d="M1575.5 237.5l7.0 7.0l-7.0 7.0l-7.0 -7.0z"/><path d="M1550.0 240.3l7.0 7.0l-7.0 7.0l-7.0 -7.0z"/><path d="M1600.9 240.3l7.0 7.0l-7.0 7.0l-7.0 -7.0z"/><path d="M1558.5 245.2l7.0 7.0l-7.0 7.0l-7.0 -7.0z"/><path d="M1592.4 245.7l7.0 7.0l-7.0 7.0l-7.0 -7.0z"/><path d="M1567.0 248.6l7.0 7.0l-7.0 7.0l-7.0 -7.0z"/><path d="M1583.9 248.6l7.0 7.0l-7.0 7.0l-7.0 -7.0z"/><path d="M1575.5 253.8l7.0 7.0l-7.0 7.0l-7.0 -7.0z"/><path d="M1575.5 275.9l7.0 7.0l-7.0 7.0l-7.0 -7.0z"/><path d="M1567.0 278.8l7.0 7.0l-7.0 7.0l-7.0 -7.0z"/><path d="M1567.0 294.6l7.0 7.0l-7.0 7.0l-7.0 -7.0z"/><path d="M1575.5 292.2l7.0 7.0l-7.0 7.0l-7.0 -7.0z"/><path d="M1583.9 293.8l7.0 7.0l-7.0 7.0l-7.0 -7.0z"/><path d="M1575.5 319.1l7.0 7.0l-7.0 7.0l-7.0 -7.0z"/><path d="M1583.9 325.9l7.0 7.0l-7.0 7.0l-7.0 -7.0z"/><path d="M1558.5 340.7l7.0 7.0l-7.0 7.0l-7.0 -7.0z"/><path d="M1575.5 338.6l7.0 7.0l-7.0 7.0l-7.0 -7.0z"/><path d="M1550.0 354.2l7.0 7.0l-7.0 7.0l-7.0 -7.0z"/><path d="M1583.9 350.1l7.0 7.0l-7.0 7.0l-7.0 -7.0z"/><path d="M1592.4 357.1l7.0 7.0l-7.0 7.0l-7.0 -7.0z"/><path d="M1600.9 363.3l7.0 7.0l-7.0 7.0l-7.0 -7.0z"/><path d="M1558.5 371.4l7.0 7.0l-7.0 7.0l-7.0 -7.0z"/><path d="M1567.0 372.2l7.0 7.0l-7.0 7.0l-7.0 -7.0z"/><path d="M1575.5 369.8l7.0 7.0l-7.0 7.0l-7.0 -7.0z"/><path d="M1583.9 368.5l7.0 7.0l-7.0 7.0l-7.0 -7.0z"/><path d="M1592.4 374.7l7.0 7.0l-7.0 7.0l-7.0 -7.0z"/><path d="M1567.0 389.3l7.0 7.0l-7.0 7.0l-7.0 -7.0z"/><path d="M1583.9 394.6l7.0 7.0l-7.0 7.0l-7.0 -7.0z"/><path d="M1567.0 408.9l7.0 7.0l-7.0 7.0l-7.0 -7.0z"/><path d="M1575.5 408.1l7.0 7.0l-7.0 7.0l-7.0 -7.0z"/><path d="M1583.9 421.9l7.0 7.0l-7.0 7.0l-7.0 -7.0z"/><path d="M1575.5 424.4l7.0 7.0l-7.0 7.0l-7.0 -7.0z"/><path d="M1567.0 428.8l7.0 7.0l-7.0 7.0l-7.0 -7.0z"/><path d="M1558.5 435.0l7.0 7.0l-7.0 7.0l-7.0 -7.0z"/><path d="M1575.5 443.5l7.0 7.0l-7.0 7.0l-7.0 -7.0z"/><path d="M1592.4 447.2l7.0 7.0l-7.0 7.0l-7.0 -7.0z"/><path d="M1567.0 450.5l7.0 7.0l-7.0 7.0l-7.0 -7.0z"/><path d="M1583.9 451.3l7.0 7.0l-7.0 7.0l-7.0 -7.0z"/><path d="M1575.5 481.0l7.0 7.0l-7.0 7.0l-7.0 -7.0z"/><path d="M1800.8 63.5l7.0 7.0l-7.0 7.0l-7.0 -7.0z"/><path d="M1805.9 130.8l7.0 7.0l-7.0 7.0l-7.0 -7.0z"/><path d="M1795.4 138.1l7.0 7.0l-7.0 7.0l-7.0 -7.0z"/><path d="M1790.2 167.0l7.0 7.0l-7.0 7.0l-7.0 -7.0z"/><path d="M1800.8 169.1l7.0 7.0l-7.0 7.0l-7.0 -7.0z"/><path d="M1811.2 171.1l7.0 7.0l-7.0 7.0l-7.0 -7.0z"/><path d="M1790.2 182.2l7.0 7.0l-7.0 7.0l-7.0 -7.0z"/><path d="M1811.2 187.5l7.0 7.0l-7.0 7.0l-7.0 -7.0z"/><path d="M1800.8 196.5l7.0 7.0l-7.0 7.0l-7.0 -7.0z"/><path d="M1790.2 207.4l7.0 7.0l-7.0 7.0l-7.0 -7.0z"/><path d="M1811.2 207.9l7.0 7.0l-7.0 7.0l-7.0 -7.0z"/><path d="M1800.8 212.3l7.0 7.0l-7.0 7.0l-7.0 -7.0z"/><path d="M1769.3 224.5l7.0 7.0l-7.0 7.0l-7.0 -7.0z"/><path d="M1779.9 224.0l7.0 7.0l-7.0 7.0l-7.0 -7.0z"/><path d="M1800.8 229.4l7.0 7.0l-7.0 7.0l-7.0 -7.0z"/><path d="M1811.2 230.7l7.0 7.0l-7.0 7.0l-7.0 -7.0z"/><path d="M1821.5 232.2l7.0 7.0l-7.0 7.0l-7.0 -7.0z"/><path d="M1832.1 236.9l7.0 7.0l-7.0 7.0l-7.0 -7.0z"/><path d="M1769.3 239.8l7.0 7.0l-7.0 7.0l-7.0 -7.0z"/><path d="M1790.2 236.9l7.0 7.0l-7.0 7.0l-7.0 -7.0z"/><path d="M1800.8 244.4l7.0 7.0l-7.0 7.0l-7.0 -7.0z"/><path d="M1811.2 245.2l7.0 7.0l-7.0 7.0l-7.0 -7.0z"/><path d="M1821.5 249.8l7.0 7.0l-7.0 7.0l-7.0 -7.0z"/><path d="M1790.2 257.8l7.0 7.0l-7.0 7.0l-7.0 -7.0z"/><path d="M1811.2 265.6l7.0 7.0l-7.0 7.0l-7.0 -7.0z"/><path d="M1800.8 286.8l7.0 7.0l-7.0 7.0l-7.0 -7.0z"/><path d="M1790.2 290.9l7.0 7.0l-7.0 7.0l-7.0 -7.0z"/><path d="M1811.2 297.4l7.0 7.0l-7.0 7.0l-7.0 -7.0z"/><path d="M1790.2 309.6l7.0 7.0l-7.0 7.0l-7.0 -7.0z"/><path d="M1800.8 321.8l7.0 7.0l-7.0 7.0l-7.0 -7.0z"/><path d="M1779.9 326.7l7.0 7.0l-7.0 7.0l-7.0 -7.0z"/><path d="M1821.5 325.9l7.0 7.0l-7.0 7.0l-7.0 -7.0z"/><path d="M1832.1 334.9l7.0 7.0l-7.0 7.0l-7.0 -7.0z"/><path d="M1759.2 339.0l7.0 7.0l-7.0 7.0l-7.0 -7.0z"/><path d="M1811.2 336.2l7.0 7.0l-7.0 7.0l-7.0 -7.0z"/><path d="M1842.4 340.6l7.0 7.0l-7.0 7.0l-7.0 -7.0z"/><path d="M1779.9 341.4l7.0 7.0l-7.0 7.0l-7.0 -7.0z"/><path d="M1769.3 346.6l7.0 7.0l-7.0 7.0l-7.0 -7.0z"/><path d="M1790.2 346.6l7.0 7.0l-7.0 7.0l-7.0 -7.0z"/><path d="M1800.8 349.6l7.0 7.0l-7.0 7.0l-7.0 -7.0z"/><path d="M1821.5 347.9l7.0 7.0l-7.0 7.0l-7.0 -7.0z"/><path d="M1832.1 354.9l7.0 7.0l-7.0 7.0l-7.0 -7.0z"/><path d="M1779.9 361.0l7.0 7.0l-7.0 7.0l-7.0 -7.0z"/><path d="M1790.2 361.8l7.0 7.0l-7.0 7.0l-7.0 -7.0z"/><path d="M1769.3 369.6l7.0 7.0l-7.0 7.0l-7.0 -7.0z"/><path d="M1800.8 368.0l7.0 7.0l-7.0 7.0l-7.0 -7.0z"/><path d="M1811.2 371.2l7.0 7.0l-7.0 7.0l-7.0 -7.0z"/><path d="M1821.5 369.1l7.0 7.0l-7.0 7.0l-7.0 -7.0z"/><path d="M1832.1 370.4l7.0 7.0l-7.0 7.0l-7.0 -7.0z"/><path d="M1779.9 382.2l7.0 7.0l-7.0 7.0l-7.0 -7.0z"/><path d="M1790.2 380.5l7.0 7.0l-7.0 7.0l-7.0 -7.0z"/><path d="M1811.2 387.0l7.0 7.0l-7.0 7.0l-7.0 -7.0z"/><path d="M1821.5 392.4l7.0 7.0l-7.0 7.0l-7.0 -7.0z"/><path d="M1832.1 395.5l7.0 7.0l-7.0 7.0l-7.0 -7.0z"/><path d="M1779.9 400.1l7.0 7.0l-7.0 7.0l-7.0 -7.0z"/><path d="M1790.2 403.3l7.0 7.0l-7.0 7.0l-7.0 -7.0z"/><path d="M1800.8 399.8l7.0 7.0l-7.0 7.0l-7.0 -7.0z"/><path d="M1811.2 405.0l7.0 7.0l-7.0 7.0l-7.0 -7.0z"/><path d="M1805.9 422.6l7.0 7.0l-7.0 7.0l-7.0 -7.0z"/><path d="M1795.4 431.4l7.0 7.0l-7.0 7.0l-7.0 -7.0z"/>
</g>
<g fill="#e58446" stroke="#0a0a0a" stroke-width="1.5" stroke-linejoin="miter">
<path d="M1674.4 167.1l7.0 7.0l-7.0 7.0l-7.0 -7.0z"/><path d="M1683.7 165.0l7.0 7.0l-7.0 7.0l-7.0 -7.0z"/><path d="M1702.3 175.6l7.0 7.0l-7.0 7.0l-7.0 -7.0z"/><path d="M1665.1 179.7l7.0 7.0l-7.0 7.0l-7.0 -7.0z"/><path d="M1683.7 182.9l7.0 7.0l-7.0 7.0l-7.0 -7.0z"/><path d="M1693.0 186.2l7.0 7.0l-7.0 7.0l-7.0 -7.0z"/><path d="M1674.4 190.3l7.0 7.0l-7.0 7.0l-7.0 -7.0z"/><path d="M1702.3 191.9l7.0 7.0l-7.0 7.0l-7.0 -7.0z"/><path d="M1711.6 201.7l7.0 7.0l-7.0 7.0l-7.0 -7.0z"/><path d="M1693.0 207.4l7.0 7.0l-7.0 7.0l-7.0 -7.0z"/><path d="M1702.3 211.5l7.0 7.0l-7.0 7.0l-7.0 -7.0z"/><path d="M1674.4 215.5l7.0 7.0l-7.0 7.0l-7.0 -7.0z"/><path d="M1683.7 218.0l7.0 7.0l-7.0 7.0l-7.0 -7.0z"/><path d="M1711.6 216.4l7.0 7.0l-7.0 7.0l-7.0 -7.0z"/><path d="M1720.9 216.4l7.0 7.0l-7.0 7.0l-7.0 -7.0z"/><path d="M1646.5 222.4l7.0 7.0l-7.0 7.0l-7.0 -7.0z"/><path d="M1655.8 222.4l7.0 7.0l-7.0 7.0l-7.0 -7.0z"/><path d="M1730.2 223.7l7.0 7.0l-7.0 7.0l-7.0 -7.0z"/><path d="M1665.1 230.2l7.0 7.0l-7.0 7.0l-7.0 -7.0z"/><path d="M1693.0 227.8l7.0 7.0l-7.0 7.0l-7.0 -7.0z"/><path d="M1702.3 227.8l7.0 7.0l-7.0 7.0l-7.0 -7.0z"/><path d="M1683.7 234.3l7.0 7.0l-7.0 7.0l-7.0 -7.0z"/><path d="M1711.6 236.7l7.0 7.0l-7.0 7.0l-7.0 -7.0z"/><path d="M1693.0 242.4l7.0 7.0l-7.0 7.0l-7.0 -7.0z"/><path d="M1702.3 242.4l7.0 7.0l-7.0 7.0l-7.0 -7.0z"/><path d="M1683.7 249.8l7.0 7.0l-7.0 7.0l-7.0 -7.0z"/><path d="M1674.4 257.9l7.0 7.0l-7.0 7.0l-7.0 -7.0z"/><path d="M1693.0 257.1l7.0 7.0l-7.0 7.0l-7.0 -7.0z"/><path d="M1702.3 264.4l7.0 7.0l-7.0 7.0l-7.0 -7.0z"/><path d="M1683.7 277.5l7.0 7.0l-7.0 7.0l-7.0 -7.0z"/><path d="M1693.0 294.6l7.0 7.0l-7.0 7.0l-7.0 -7.0z"/><path d="M1674.4 300.3l7.0 7.0l-7.0 7.0l-7.0 -7.0z"/><path d="M1702.3 305.2l7.0 7.0l-7.0 7.0l-7.0 -7.0z"/><path d="M1683.7 306.0l7.0 7.0l-7.0 7.0l-7.0 -7.0z"/><path d="M1693.0 310.9l7.0 7.0l-7.0 7.0l-7.0 -7.0z"/><path d="M1688.3 329.6l7.0 7.0l-7.0 7.0l-7.0 -7.0z"/><path d="M1702.3 344.3l7.0 7.0l-7.0 7.0l-7.0 -7.0z"/><path d="M1665.1 352.7l7.0 7.0l-7.0 7.0l-7.0 -7.0z"/><path d="M1683.7 352.7l7.0 7.0l-7.0 7.0l-7.0 -7.0z"/><path d="M1674.4 357.6l7.0 7.0l-7.0 7.0l-7.0 -7.0z"/><path d="M1711.6 355.1l7.0 7.0l-7.0 7.0l-7.0 -7.0z"/><path d="M1702.3 362.8l7.0 7.0l-7.0 7.0l-7.0 -7.0z"/><path d="M1693.0 364.9l7.0 7.0l-7.0 7.0l-7.0 -7.0z"/><path d="M1683.7 393.4l7.0 7.0l-7.0 7.0l-7.0 -7.0z"/><path d="M1711.6 395.1l7.0 7.0l-7.0 7.0l-7.0 -7.0z"/><path d="M1655.8 399.9l7.0 7.0l-7.0 7.0l-7.0 -7.0z"/><path d="M1665.1 397.8l7.0 7.0l-7.0 7.0l-7.0 -7.0z"/><path d="M1702.3 399.9l7.0 7.0l-7.0 7.0l-7.0 -7.0z"/><path d="M1720.9 398.3l7.0 7.0l-7.0 7.0l-7.0 -7.0z"/><path d="M1693.0 403.2l7.0 7.0l-7.0 7.0l-7.0 -7.0z"/><path d="M1683.7 408.6l7.0 7.0l-7.0 7.0l-7.0 -7.0z"/><path d="M1674.4 427.3l7.0 7.0l-7.0 7.0l-7.0 -7.0z"/><path d="M1665.1 432.1l7.0 7.0l-7.0 7.0l-7.0 -7.0z"/><path d="M1693.0 431.2l7.0 7.0l-7.0 7.0l-7.0 -7.0z"/><path d="M1702.3 426.4l7.0 7.0l-7.0 7.0l-7.0 -7.0z"/><path d="M1711.6 425.2l7.0 7.0l-7.0 7.0l-7.0 -7.0z"/><path d="M1683.7 444.8l7.0 7.0l-7.0 7.0l-7.0 -7.0z"/><path d="M1702.3 442.0l7.0 7.0l-7.0 7.0l-7.0 -7.0z"/><path d="M1711.6 440.7l7.0 7.0l-7.0 7.0l-7.0 -7.0z"/><path d="M1693.0 463.0l7.0 7.0l-7.0 7.0l-7.0 -7.0z"/><path d="M1683.7 474.1l7.0 7.0l-7.0 7.0l-7.0 -7.0z"/><path d="M1918.2 113.4l7.0 7.0l-7.0 7.0l-7.0 -7.0z"/><path d="M1908.4 116.9l7.0 7.0l-7.0 7.0l-7.0 -7.0z"/><path d="M1913.1 161.8l7.0 7.0l-7.0 7.0l-7.0 -7.0z"/><path d="M1903.8 191.6l7.0 7.0l-7.0 7.0l-7.0 -7.0z"/><path d="M1922.6 196.8l7.0 7.0l-7.0 7.0l-7.0 -7.0z"/><path d="M1913.1 201.7l7.0 7.0l-7.0 7.0l-7.0 -7.0z"/><path d="M1913.1 220.5l7.0 7.0l-7.0 7.0l-7.0 -7.0z"/><path d="M1890.0 236.3l7.0 7.0l-7.0 7.0l-7.0 -7.0z"/><path d="M1945.4 242.0l7.0 7.0l-7.0 7.0l-7.0 -7.0z"/><path d="M1880.5 246.9l7.0 7.0l-7.0 7.0l-7.0 -7.0z"/><path d="M1898.9 249.0l7.0 7.0l-7.0 7.0l-7.0 -7.0z"/><path d="M1909.5 249.3l7.0 7.0l-7.0 7.0l-7.0 -7.0z"/><path d="M1935.6 250.1l7.0 7.0l-7.0 7.0l-7.0 -7.0z"/><path d="M1889.2 251.7l7.0 7.0l-7.0 7.0l-7.0 -7.0z"/><path d="M1880.5 266.4l7.0 7.0l-7.0 7.0l-7.0 -7.0z"/><path d="M1890.0 266.9l7.0 7.0l-7.0 7.0l-7.0 -7.0z"/><path d="M1908.4 266.4l7.0 7.0l-7.0 7.0l-7.0 -7.0z"/><path d="M1917.7 265.6l7.0 7.0l-7.0 7.0l-7.0 -7.0z"/><path d="M1927.5 264.0l7.0 7.0l-7.0 7.0l-7.0 -7.0z"/><path d="M1945.4 265.1l7.0 7.0l-7.0 7.0l-7.0 -7.0z"/><path d="M1898.9 276.7l7.0 7.0l-7.0 7.0l-7.0 -7.0z"/><path d="M1880.5 282.7l7.0 7.0l-7.0 7.0l-7.0 -7.0z"/><path d="M1935.6 281.9l7.0 7.0l-7.0 7.0l-7.0 -7.0z"/><path d="M1871.2 286.8l7.0 7.0l-7.0 7.0l-7.0 -7.0z"/><path d="M1890.0 287.6l7.0 7.0l-7.0 7.0l-7.0 -7.0z"/><path d="M1917.7 288.4l7.0 7.0l-7.0 7.0l-7.0 -7.0z"/><path d="M1927.5 292.5l7.0 7.0l-7.0 7.0l-7.0 -7.0z"/><path d="M1945.4 286.0l7.0 7.0l-7.0 7.0l-7.0 -7.0z"/><path d="M1955.2 290.9l7.0 7.0l-7.0 7.0l-7.0 -7.0z"/><path d="M1898.9 296.6l7.0 7.0l-7.0 7.0l-7.0 -7.0z"/><path d="M1908.4 299.8l7.0 7.0l-7.0 7.0l-7.0 -7.0z"/><path d="M1917.7 303.9l7.0 7.0l-7.0 7.0l-7.0 -7.0z"/><path d="M1927.5 311.2l7.0 7.0l-7.0 7.0l-7.0 -7.0z"/><path d="M1908.4 319.4l7.0 7.0l-7.0 7.0l-7.0 -7.0z"/><path d="M1936.4 326.7l7.0 7.0l-7.0 7.0l-7.0 -7.0z"/><path d="M1927.5 328.4l7.0 7.0l-7.0 7.0l-7.0 -7.0z"/><path d="M1898.9 332.8l7.0 7.0l-7.0 7.0l-7.0 -7.0z"/><path d="M1880.5 339.0l7.0 7.0l-7.0 7.0l-7.0 -7.0z"/><path d="M1917.7 339.8l7.0 7.0l-7.0 7.0l-7.0 -7.0z"/><path d="M1871.2 343.8l7.0 7.0l-7.0 7.0l-7.0 -7.0z"/><path d="M1890.0 345.5l7.0 7.0l-7.0 7.0l-7.0 -7.0z"/><path d="M1936.4 342.2l7.0 7.0l-7.0 7.0l-7.0 -7.0z"/><path d="M1908.4 349.6l7.0 7.0l-7.0 7.0l-7.0 -7.0z"/><path d="M1927.5 352.8l7.0 7.0l-7.0 7.0l-7.0 -7.0z"/><path d="M1945.4 352.0l7.0 7.0l-7.0 7.0l-7.0 -7.0z"/><path d="M1955.2 351.2l7.0 7.0l-7.0 7.0l-7.0 -7.0z"/><path d="M1880.5 354.4l7.0 7.0l-7.0 7.0l-7.0 -7.0z"/><path d="M1898.9 354.4l7.0 7.0l-7.0 7.0l-7.0 -7.0z"/><path d="M1871.2 360.1l7.0 7.0l-7.0 7.0l-7.0 -7.0z"/><path d="M1917.7 359.3l7.0 7.0l-7.0 7.0l-7.0 -7.0z"/><path d="M1936.4 358.5l7.0 7.0l-7.0 7.0l-7.0 -7.0z"/><path d="M1898.9 371.2l7.0 7.0l-7.0 7.0l-7.0 -7.0z"/><path d="M1936.4 378.6l7.0 7.0l-7.0 7.0l-7.0 -7.0z"/><path d="M1890.0 388.7l7.0 7.0l-7.0 7.0l-7.0 -7.0z"/><path d="M1908.4 389.5l7.0 7.0l-7.0 7.0l-7.0 -7.0z"/><path d="M1898.9 394.4l7.0 7.0l-7.0 7.0l-7.0 -7.0z"/><path d="M1917.7 396.0l7.0 7.0l-7.0 7.0l-7.0 -7.0z"/><path d="M1936.4 399.3l7.0 7.0l-7.0 7.0l-7.0 -7.0z"/><path d="M1890.0 407.4l7.0 7.0l-7.0 7.0l-7.0 -7.0z"/><path d="M1908.4 406.3l7.0 7.0l-7.0 7.0l-7.0 -7.0z"/><path d="M1927.5 408.2l7.0 7.0l-7.0 7.0l-7.0 -7.0z"/>
</g>
<line x1="1512.3" y1="17.0" x2="1512.3" y2="556.7" stroke="#111" stroke-width="1.8"/>
<line x1="1501" y1="556.7" x2="1976.8" y2="556.7" stroke="#111" stroke-width="1.8"/>
<line x1="1500.3" y1="17.9" x2="1512.3" y2="17.9" stroke="#111" stroke-width="1.8"/>
<text transform="translate(1497.6 25.6) scale(1 1.035)" font-size="21.9" text-anchor="end">3</text>
<line x1="1500.3" y1="107.75" x2="1512.3" y2="107.75" stroke="#111" stroke-width="1.8"/>
<text transform="translate(1497.6 115.45) scale(1 1.035)" font-size="21.9" text-anchor="end">2</text>
<line x1="1500.3" y1="197.6" x2="1512.3" y2="197.6" stroke="#111" stroke-width="1.8"/>
<text transform="translate(1497.6 205.3) scale(1 1.035)" font-size="21.9" text-anchor="end">1</text>
<line x1="1500.3" y1="287.44999999999993" x2="1512.3" y2="287.44999999999993" stroke="#111" stroke-width="1.8"/>
<text transform="translate(1497.6 295.15) scale(1 1.035)" font-size="21.9" text-anchor="end">0</text>
<line x1="1500.3" y1="377.29999999999995" x2="1512.3" y2="377.29999999999995" stroke="#111" stroke-width="1.8"/>
<text transform="translate(1497.6 385.0) scale(1 1.035)" font-size="21.9" text-anchor="end">-1</text>
<line x1="1500.3" y1="467.15" x2="1512.3" y2="467.15" stroke="#111" stroke-width="1.8"/>
<text transform="translate(1497.6 474.85) scale(1 1.035)" font-size="21.9" text-anchor="end">-2</text>
<text transform="translate(1497.6 564.7) scale(1 1.035)" font-size="21.9" text-anchor="end">-3</text>
<line x1="1575.6" y1="556.7" x2="1575.6" y2="568.7" stroke="#111" stroke-width="1.8"/>
<text transform="translate(1575.6 592.8) scale(1 1.035)" font-size="21.9" text-anchor="middle">Cluster 1</text>
<line x1="1688.4" y1="556.7" x2="1688.4" y2="568.7" stroke="#111" stroke-width="1.8"/>
<text transform="translate(1688.4 592.8) scale(1 1.035)" font-size="21.9" text-anchor="middle">Cluster 2</text>
<line x1="1800.8" y1="556.7" x2="1800.8" y2="568.7" stroke="#111" stroke-width="1.8"/>
<text transform="translate(1800.8 592.8) scale(1 1.035)" font-size="21.9" text-anchor="middle">Cluster 1</text>
<line x1="1913.1" y1="556.7" x2="1913.1" y2="568.7" stroke="#111" stroke-width="1.8"/>
<text transform="translate(1913.1 592.8) scale(1 1.035)" font-size="21.9" text-anchor="middle">Cluster 2</text>
<line x1="1560.4" y1="607.4" x2="1709.7" y2="607.4" stroke="#d4d4d4" stroke-width="1.2"/>
<line x1="1782.2" y1="607.4" x2="1931.2" y2="607.4" stroke="#d4d4d4" stroke-width="1.2"/>
<text transform="translate(1634.6 640) scale(1 1.035)" font-size="23.4" text-anchor="middle">SD score</text>
<text transform="translate(1859.8 640) scale(1 1.035)" font-size="23.4" text-anchor="middle">PS score</text>
<text transform="translate(1462.6 287.8) rotate(-90) scale(1 1.01)" font-size="23.2" text-anchor="middle">SD or PS score</text>
<text transform="translate(1674.7 677.6) scale(1 1.035)" font-size="21.85" text-anchor="middle">Proportion of feedings with breast milk (%)</text>
<g fill="#fef0e6" stroke="#000" stroke-width="1.25">
<circle cx="1516.2" cy="704.3" r="5.6"/>
</g>
<text transform="translate(1527.6 710.8) scale(1 1.035)" font-size="21.7" text-anchor="start">0-10</text>
<g fill="#ffc000" stroke="#000" stroke-width="1.25">
<circle cx="1594" cy="704.3" r="5.6"/>
</g>
<text transform="translate(1607.2 710.8) scale(1 1.035)" font-size="21.7" text-anchor="start">10-50</text>
<g fill="#e87878" stroke="#000" stroke-width="1.25">
<circle cx="1683.6" cy="704.3" r="5.6"/>
</g>
<text transform="translate(1695.7 710.8) scale(1 1.035)" font-size="21.7" text-anchor="start">50-90</text>
<g fill="#a86868" stroke="#000" stroke-width="1.25">
<circle cx="1773.8" cy="704.3" r="5.6"/>
</g>
<text transform="translate(1786.1 710.8) scale(1 1.035)" font-size="21.7" text-anchor="start">90-100</text>
<text transform="translate(0.5 726.3) scale(1 1)" font-size="41" text-anchor="start">c</text>
<rect x="97.6" y="705.6" width="614.8" height="588.3000000000001" fill="none" stroke="#404040" stroke-width="1.2"/>
<path d="M97.6 705.6V1293.9H712.4" fill="none" stroke="#111" stroke-width="1.2"/>
<line x1="97.6" y1="1293.9" x2="97.6" y2="1300.2" stroke="#333" stroke-width="1.2"/>
<text transform="translate(97.6 1326.6) scale(1 1.035)" font-size="21.2" text-anchor="middle">-0.8</text>
<line x1="302.4" y1="1293.9" x2="302.4" y2="1300.2" stroke="#333" stroke-width="1.2"/>
<text transform="translate(302.4 1326.6) scale(1 1.035)" font-size="21.2" text-anchor="middle">-0.3</text>
<line x1="507.3" y1="1293.9" x2="507.3" y2="1300.2" stroke="#333" stroke-width="1.2"/>
<text transform="translate(507.3 1326.6) scale(1 1.035)" font-size="21.2" text-anchor="middle">0.2</text>
<line x1="712.4" y1="1293.9" x2="712.4" y2="1300.2" stroke="#333" stroke-width="1.2"/>
<text transform="translate(712.4 1326.6) scale(1 1.035)" font-size="21.2" text-anchor="middle">0.7</text>
<line x1="91.3" y1="705.8" x2="97.6" y2="705.8" stroke="#333" stroke-width="1.2"/>
<text transform="translate(79.0 712.1) scale(1 1.035)" font-size="21.2" text-anchor="end">0.75</text>
<line x1="91.3" y1="790.0" x2="97.6" y2="790.0" stroke="#333" stroke-width="1.2"/>
<text transform="translate(79.0 796.3) scale(1 1.035)" font-size="21.2" text-anchor="end">0.55</text>
<line x1="91.3" y1="874.2" x2="97.6" y2="874.2" stroke="#333" stroke-width="1.2"/>
<text transform="translate(79.0 880.5) scale(1 1.035)" font-size="21.2" text-anchor="end">0.35</text>
<line x1="91.3" y1="958.3" x2="97.6" y2="958.3" stroke="#333" stroke-width="1.2"/>
<text transform="translate(79.0 964.6) scale(1 1.035)" font-size="21.2" text-anchor="end">0.15</text>
<line x1="91.3" y1="1042.4" x2="97.6" y2="1042.4" stroke="#333" stroke-width="1.2"/>
<text transform="translate(79.0 1048.7) scale(1 1.035)" font-size="21.2" text-anchor="end">-0.05</text>
<line x1="91.3" y1="1126.3" x2="97.6" y2="1126.3" stroke="#333" stroke-width="1.2"/>
<text transform="translate(79.0 1132.6) scale(1 1.035)" font-size="21.2" text-anchor="end">-0.25</text>
<line x1="91.3" y1="1210.2" x2="97.6" y2="1210.2" stroke="#333" stroke-width="1.2"/>
<text transform="translate(79.0 1216.5) scale(1 1.035)" font-size="21.2" text-anchor="end">-0.45</text>
<line x1="91.3" y1="1293.9" x2="97.6" y2="1293.9" stroke="#333" stroke-width="1.2"/>
<text transform="translate(79.0 1300.2) scale(1 1.035)" font-size="21.2" text-anchor="end">-0.65</text>
<rect x="97.6" y="705.6" width="260.29999999999995" height="32.60000000000002" fill="#fff" stroke="#333" stroke-width="1.2"/>
<g fill="#00b0f0" stroke="#000" stroke-width="1.25">
<circle cx="123.6" cy="721.9" r="5.7"/>
</g>
<text transform="translate(134.6 729) scale(1 1.035)" font-size="21.2" text-anchor="start">Cluster 1</text>
<g fill="#ffc000" stroke="#000" stroke-width="1.25">
<circle cx="245.8" cy="721.9" r="5.7"/>
</g>
<text transform="translate(257.0 729) scale(1 1.035)" font-size="21.2" text-anchor="start">Cluster 2</text>
<text transform="translate(24 999.2) rotate(-90) scale(1 1.01)" font-size="21.7" text-anchor="middle">NMDS 2</text>
<text transform="translate(404.2 1339.2) scale(1 1.035)" font-size="21.2" text-anchor="middle">NMDS 1</text>
<g fill="#00b0f0" stroke="#000" stroke-width="1.25">
<circle cx="398.2" cy="732.7" r="5.9"/><circle cx="268.8" cy="797.1" r="5.9"/><circle cx="314.0" cy="810.9" r="5.9"/><circle cx="398.2" cy="850.5" r="5.9"/><circle cx="286.9" cy="874.6" r="5.9"/><circle cx="372.9" cy="873.1" r="5.9"/><circle cx="282.6" cy="889.4" r="5.9"/><circle cx="242.8" cy="901.7" r="5.9"/><circle cx="322.5" cy="900.7" r="5.9"/><circle cx="372.4" cy="902.2" r="5.9"/><circle cx="273.4" cy="921.0" r="5.9"/><circle cx="341.1" cy="922.0" r="5.9"/><circle cx="379.2" cy="921.8" r="5.9"/><circle cx="222.9" cy="925.0" r="5.9"/><circle cx="158.5" cy="935.3" r="5.9"/><circle cx="334.8" cy="961.9" r="5.9"/><circle cx="235.0" cy="967.9" r="5.9"/><circle cx="301.7" cy="972.4" r="5.9"/><circle cx="154.5" cy="975.9" r="5.9"/><circle cx="220.4" cy="975.9" r="5.9"/><circle cx="350.6" cy="974.4" r="5.9"/><circle cx="360.4" cy="978.9" r="5.9"/><circle cx="355.1" cy="987.0" r="5.9"/><circle cx="253.0" cy="1008.0" r="5.9"/><circle cx="300.2" cy="1007.3" r="5.9"/><circle cx="364.9" cy="1008.5" r="5.9"/><circle cx="235.7" cy="1014.3" r="5.9"/><circle cx="386.5" cy="1013.8" r="5.9"/><circle cx="226.5" cy="1027.6" r="5.9"/><circle cx="206.1" cy="1031.6" r="5.9"/><circle cx="217.2" cy="1040.9" r="5.9"/><circle cx="289.9" cy="1034.4" r="5.9"/><circle cx="336.3" cy="1037.9" r="5.9"/><circle cx="359.1" cy="1036.1" r="5.9"/><circle cx="256.6" cy="1059.7" r="5.9"/><circle cx="293.7" cy="1058.4" r="5.9"/><circle cx="344.6" cy="1064.5" r="5.9"/><circle cx="185.1" cy="1068.5" r="5.9"/><circle cx="305.5" cy="1072.5" r="5.9"/><circle cx="213.9" cy="1079.0" r="5.9"/><circle cx="258.1" cy="1078.2" r="5.9"/><circle cx="333.0" cy="1081.8" r="5.9"/><circle cx="351.6" cy="1088.8" r="5.9"/><circle cx="391.2" cy="1094.3" r="5.9"/><circle cx="234.0" cy="1095.3" r="5.9"/><circle cx="253.0" cy="1102.8" r="5.9"/><circle cx="230.2" cy="1107.3" r="5.9"/><circle cx="281.1" cy="1107.8" r="5.9"/><circle cx="302.4" cy="1119.1" r="5.9"/><circle cx="333.0" cy="1129.7" r="5.9"/><circle cx="368.7" cy="1131.7" r="5.9"/><circle cx="290.9" cy="1146.0" r="5.9"/><circle cx="392.5" cy="1163.8" r="5.9"/><circle cx="297.7" cy="1167.0" r="5.9"/><circle cx="272.6" cy="1182.8" r="5.9"/><circle cx="322.8" cy="1232.2" r="5.9"/><circle cx="407.3" cy="860.8" r="5.9"/><circle cx="448.7" cy="933.3" r="5.9"/><circle cx="445.2" cy="950.1" r="5.9"/><circle cx="409.1" cy="1032.6" r="5.9"/><circle cx="412.1" cy="1111.1" r="5.9"/>
</g>
<g fill="#ffc000" stroke="#000" stroke-width="1.25">
<circle cx="576.9" cy="789.8" r="5.9"/><circle cx="573.1" cy="859.6" r="5.9"/><circle cx="468.5" cy="866.8" r="5.9"/><circle cx="485.8" cy="865.8" r="5.9"/><circle cx="538.5" cy="863.8" r="5.9"/><circle cx="436.7" cy="881.9" r="5.9"/><circle cx="596.7" cy="884.9" r="5.9"/><circle cx="604.5" cy="904.5" r="5.9"/><circle cx="625.0" cy="914.2" r="5.9"/><circle cx="578.6" cy="925.0" r="5.9"/><circle cx="539.5" cy="931.0" r="5.9"/><circle cx="488.3" cy="938.8" r="5.9"/><circle cx="634.5" cy="936.6" r="5.9"/><circle cx="653.4" cy="944.8" r="5.9"/><circle cx="579.6" cy="948.6" r="5.9"/><circle cx="564.8" cy="960.6" r="5.9"/><circle cx="574.4" cy="969.9" r="5.9"/><circle cx="658.1" cy="962.6" r="5.9"/><circle cx="622.5" cy="971.9" r="5.9"/><circle cx="549.0" cy="982.2" r="5.9"/><circle cx="658.4" cy="982.4" r="5.9"/><circle cx="669.7" cy="986.5" r="5.9"/><circle cx="475.0" cy="991.2" r="5.9"/><circle cx="439.7" cy="1001.8" r="5.9"/><circle cx="542.5" cy="1007.3" r="5.9"/><circle cx="599.7" cy="1006.8" r="5.9"/><circle cx="613.0" cy="1017.6" r="5.9"/><circle cx="450.7" cy="1024.3" r="5.9"/><circle cx="513.7" cy="1023.1" r="5.9"/><circle cx="548.0" cy="1021.8" r="5.9"/><circle cx="657.1" cy="1027.6" r="5.9"/><circle cx="589.7" cy="1032.6" r="5.9"/><circle cx="619.0" cy="1038.6" r="5.9"/><circle cx="597.9" cy="1046.4" r="5.9"/><circle cx="454.7" cy="1049.4" r="5.9"/><circle cx="528.7" cy="1054.7" r="5.9"/><circle cx="574.6" cy="1069.0" r="5.9"/><circle cx="423.9" cy="1077.7" r="5.9"/><circle cx="521.9" cy="1083.0" r="5.9"/><circle cx="502.1" cy="1089.0" r="5.9"/><circle cx="459.0" cy="1090.8" r="5.9"/><circle cx="650.1" cy="1099.6" r="5.9"/><circle cx="546.8" cy="1106.6" r="5.9"/><circle cx="504.6" cy="1120.4" r="5.9"/><circle cx="469.0" cy="1123.9" r="5.9"/><circle cx="613.0" cy="1119.9" r="5.9"/><circle cx="596.9" cy="1123.4" r="5.9"/><circle cx="658.9" cy="1125.4" r="5.9"/><circle cx="406.6" cy="1129.9" r="5.9"/><circle cx="638.3" cy="1138.4" r="5.9"/><circle cx="523.7" cy="1142.7" r="5.9"/><circle cx="445.2" cy="1150.0" r="5.9"/><circle cx="462.0" cy="1160.5" r="5.9"/><circle cx="403.1" cy="1172.5" r="5.9"/><circle cx="434.2" cy="1192.6" r="5.9"/><circle cx="407.3" cy="1199.9" r="5.9"/><circle cx="552.8" cy="1199.9" r="5.9"/><circle cx="617.2" cy="1201.4" r="5.9"/><circle cx="437.9" cy="1220.4" r="5.9"/><circle cx="579.4" cy="1268.3" r="5.9"/>
</g>
<line x1="809.6" y1="996.5999999999999" x2="1273.9" y2="996.5999999999999" stroke="#cfcfcf" stroke-width="1.2"/>
<rect x="825.0" y="929.7" width="96.5" height="41.39999999999998" fill="#d4eefc" stroke="#0a0a0a" stroke-width="1.5"/>
<line x1="825.0" y1="934.6" x2="921.5" y2="934.6" stroke="#0a0a0a" stroke-width="1.5"/>
<line x1="872.9" y1="881.9" x2="872.9" y2="929.7" stroke="#0a0a0a" stroke-width="1.45"/>
<line x1="872.9" y1="971.1" x2="872.9" y2="1189.2" stroke="#0a0a0a" stroke-width="1.45"/>
<line x1="847.9" y1="881.9" x2="897.9" y2="881.9" stroke="#161616" stroke-width="1.4"/>
<line x1="847.9" y1="1189.2" x2="897.9" y2="1189.2" stroke="#161616" stroke-width="1.4"/>
<rect x="937.4" y="1013.4" width="96.10000000000002" height="125.39999999999998" fill="#fff2d6" stroke="#0a0a0a" stroke-width="1.5"/>
<line x1="937.4" y1="1083.3" x2="1033.5" y2="1083.3" stroke="#0a0a0a" stroke-width="1.5"/>
<line x1="985.2" y1="882.8" x2="985.2" y2="1013.4" stroke="#0a0a0a" stroke-width="1.45"/>
<line x1="985.2" y1="1138.8" x2="985.2" y2="1196.4" stroke="#0a0a0a" stroke-width="1.45"/>
<line x1="960.2" y1="882.8" x2="1010.2" y2="882.8" stroke="#161616" stroke-width="1.4"/>
<line x1="960.2" y1="1196.4" x2="1010.2" y2="1196.4" stroke="#161616" stroke-width="1.4"/>
<rect x="1049.4" y="935.1" width="96.39999999999986" height="126.19999999999993" fill="#d4eefc" stroke="#0a0a0a" stroke-width="1.5"/>
<line x1="1049.4" y1="999.2" x2="1145.8" y2="999.2" stroke="#0a0a0a" stroke-width="1.5"/>
<line x1="1097.5" y1="780.3" x2="1097.5" y2="935.1" stroke="#0a0a0a" stroke-width="1.45"/>
<line x1="1097.5" y1="1061.3" x2="1097.5" y2="1146.5" stroke="#0a0a0a" stroke-width="1.45"/>
<line x1="1072.5" y1="780.3" x2="1122.5" y2="780.3" stroke="#161616" stroke-width="1.4"/>
<line x1="1072.5" y1="1146.5" x2="1122.5" y2="1146.5" stroke="#161616" stroke-width="1.4"/>
<rect x="1161.6" y="986.5" width="96.90000000000009" height="105.5" fill="#fff2d6" stroke="#0a0a0a" stroke-width="1.5"/>
<line x1="1161.6" y1="1049.5" x2="1258.5" y2="1049.5" stroke="#0a0a0a" stroke-width="1.5"/>
<line x1="1209.7" y1="830.3" x2="1209.7" y2="986.5" stroke="#0a0a0a" stroke-width="1.45"/>
<line x1="1209.7" y1="1092.0" x2="1209.7" y2="1138.2" stroke="#0a0a0a" stroke-width="1.45"/>
<line x1="1184.7" y1="830.3" x2="1234.7" y2="830.3" stroke="#161616" stroke-width="1.4"/>
<line x1="1184.7" y1="1138.2" x2="1234.7" y2="1138.2" stroke="#161616" stroke-width="1.4"/>
<g fill="#56bdf9" stroke="#0a0a0a" stroke-width="1.4">
<circle cx="873.3" cy="881.9" r="5.8"/><circle cx="879.5" cy="883.4" r="5.8"/><circle cx="867.3" cy="888.1" r="5.8"/><circle cx="860.7" cy="892.8" r="5.8"/><circle cx="885.2" cy="892.2" r="5.8"/><circle cx="873.3" cy="896.6" r="5.8"/><circle cx="867.3" cy="903.1" r="5.8"/><circle cx="879.5" cy="906.9" r="5.8"/><circle cx="873.3" cy="909.7" r="5.8"/><circle cx="860.7" cy="910.3" r="5.8"/><circle cx="855.1" cy="919.7" r="5.8"/><circle cx="860.7" cy="921.9" r="5.8"/><circle cx="891.4" cy="918.2" r="5.8"/><circle cx="885.2" cy="926.6" r="5.8"/><circle cx="830.3" cy="928.0" r="5.8"/><circle cx="879.5" cy="930.4" r="5.8"/><circle cx="909.6" cy="929.8" r="5.8"/><circle cx="836.3" cy="932.7" r="5.8"/><circle cx="867.3" cy="933.2" r="5.8"/><circle cx="873.3" cy="935.1" r="5.8"/><circle cx="860.7" cy="936.1" r="5.8"/><circle cx="830.3" cy="940.4" r="5.8"/><circle cx="848.5" cy="938.5" r="5.8"/><circle cx="855.1" cy="938.9" r="5.8"/><circle cx="885.2" cy="939.8" r="5.8"/><circle cx="879.5" cy="941.7" r="5.8"/><circle cx="891.4" cy="938.9" r="5.8"/><circle cx="897.4" cy="939.8" r="5.8"/><circle cx="903.4" cy="937.4" r="5.8"/><circle cx="909.6" cy="941.7" r="5.8"/><circle cx="916.2" cy="939.8" r="5.8"/><circle cx="842.3" cy="944.5" r="5.8"/><circle cx="867.3" cy="944.5" r="5.8"/><circle cx="855.1" cy="949.4" r="5.8"/><circle cx="897.4" cy="951.7" r="5.8"/><circle cx="891.4" cy="950.3" r="5.8"/><circle cx="885.2" cy="952.8" r="5.8"/><circle cx="879.5" cy="953.5" r="5.8"/><circle cx="873.3" cy="956.0" r="5.8"/><circle cx="860.7" cy="958.2" r="5.8"/><circle cx="854.1" cy="961.6" r="5.8"/><circle cx="867.3" cy="962.2" r="5.8"/><circle cx="891.8" cy="963.9" r="5.8"/><circle cx="886.1" cy="965.8" r="5.8"/><circle cx="879.5" cy="969.2" r="5.8"/><circle cx="873.3" cy="973.9" r="5.8"/><circle cx="873.3" cy="993.2" r="5.8"/><circle cx="870.1" cy="1008.7" r="5.8"/><circle cx="876.3" cy="1009.6" r="5.8"/><circle cx="873.3" cy="1021.3" r="5.8"/><circle cx="866.9" cy="1035.0" r="5.8"/><circle cx="873.3" cy="1042.1" r="5.8"/><circle cx="873.3" cy="1054.7" r="5.8"/><circle cx="873.3" cy="1070.2" r="5.8"/><circle cx="866.9" cy="1110.6" r="5.8"/><circle cx="873.3" cy="1115.3" r="5.8"/><circle cx="879.5" cy="1115.9" r="5.8"/><circle cx="873.3" cy="1143.1" r="5.8"/><circle cx="879.2" cy="1142.2" r="5.8"/><circle cx="873.3" cy="1189.2" r="5.8"/><circle cx="1097.5" cy="780.3" r="5.8"/><circle cx="1097.5" cy="833.5" r="5.8"/><circle cx="1102.4" cy="847.6" r="5.8"/><circle cx="1092.4" cy="854.6" r="5.8"/><circle cx="1083.0" cy="877.7" r="5.8"/><circle cx="1102.4" cy="885.6" r="5.8"/><circle cx="1092.4" cy="887.5" r="5.8"/><circle cx="1083.0" cy="898.4" r="5.8"/><circle cx="1112.2" cy="904.1" r="5.8"/><circle cx="1092.4" cy="907.8" r="5.8"/><circle cx="1083.0" cy="913.1" r="5.8"/><circle cx="1102.4" cy="913.5" r="5.8"/><circle cx="1112.2" cy="917.2" r="5.8"/><circle cx="1092.4" cy="924.2" r="5.8"/><circle cx="1102.4" cy="928.5" r="5.8"/><circle cx="1121.6" cy="941.1" r="5.8"/><circle cx="1112.2" cy="945.5" r="5.8"/><circle cx="1083.0" cy="948.3" r="5.8"/><circle cx="1073.6" cy="953.2" r="5.8"/><circle cx="1121.6" cy="953.2" r="5.8"/><circle cx="1131.0" cy="956.0" r="5.8"/><circle cx="1092.4" cy="960.3" r="5.8"/><circle cx="1112.2" cy="961.6" r="5.8"/><circle cx="1073.6" cy="965.4" r="5.8"/><circle cx="1083.0" cy="966.9" r="5.8"/><circle cx="1102.4" cy="965.8" r="5.8"/><circle cx="1121.6" cy="966.3" r="5.8"/><circle cx="1087.7" cy="981.8" r="5.8"/><circle cx="1097.5" cy="980.4" r="5.8"/><circle cx="1106.9" cy="983.3" r="5.8"/><circle cx="1083.0" cy="1003.0" r="5.8"/><circle cx="1093.0" cy="1001.7" r="5.8"/><circle cx="1111.8" cy="999.2" r="5.8"/><circle cx="1102.4" cy="1013.4" r="5.8"/><circle cx="1092.4" cy="1019.9" r="5.8"/><circle cx="1102.4" cy="1026.9" r="5.8"/><circle cx="1083.0" cy="1035.5" r="5.8"/><circle cx="1092.4" cy="1043.1" r="5.8"/><circle cx="1102.4" cy="1042.1" r="5.8"/><circle cx="1054.8" cy="1059.4" r="5.8"/><circle cx="1064.2" cy="1056.6" r="5.8"/><circle cx="1073.6" cy="1054.7" r="5.8"/><circle cx="1083.0" cy="1057.6" r="5.8"/><circle cx="1102.4" cy="1054.2" r="5.8"/><circle cx="1121.6" cy="1055.1" r="5.8"/><circle cx="1111.8" cy="1062.3" r="5.8"/><circle cx="1131.0" cy="1063.8" r="5.8"/><circle cx="1140.4" cy="1062.3" r="5.8"/><circle cx="1092.4" cy="1065.5" r="5.8"/><circle cx="1083.0" cy="1069.8" r="5.8"/><circle cx="1102.4" cy="1070.7" r="5.8"/><circle cx="1112.2" cy="1074.1" r="5.8"/><circle cx="1083.0" cy="1084.5" r="5.8"/><circle cx="1092.4" cy="1085.8" r="5.8"/><circle cx="1102.4" cy="1085.2" r="5.8"/><circle cx="1111.8" cy="1086.7" r="5.8"/><circle cx="1083.0" cy="1111.7" r="5.8"/><circle cx="1092.4" cy="1121.1" r="5.8"/><circle cx="1102.4" cy="1118.7" r="5.8"/><circle cx="1111.8" cy="1123.0" r="5.8"/><circle cx="1097.5" cy="1146.5" r="5.8"/>
</g>
<g fill="#ffd966" stroke="#0a0a0a" stroke-width="1.4">
<circle cx="985.2" cy="882.8" r="5.8"/><circle cx="991.4" cy="899.7" r="5.8"/><circle cx="979.2" cy="906.3" r="5.8"/><circle cx="1003.7" cy="924.2" r="5.8"/><circle cx="979.2" cy="933.2" r="5.8"/><circle cx="991.4" cy="933.8" r="5.8"/><circle cx="979.2" cy="956.0" r="5.8"/><circle cx="991.4" cy="958.8" r="5.8"/><circle cx="1003.7" cy="964.1" r="5.8"/><circle cx="991.4" cy="973.9" r="5.8"/><circle cx="979.2" cy="980.4" r="5.8"/><circle cx="979.2" cy="991.7" r="5.8"/><circle cx="991.4" cy="995.1" r="5.8"/><circle cx="967.0" cy="1010.5" r="5.8"/><circle cx="979.2" cy="1010.9" r="5.8"/><circle cx="1003.7" cy="1016.6" r="5.8"/><circle cx="967.0" cy="1022.4" r="5.8"/><circle cx="991.4" cy="1026.9" r="5.8"/><circle cx="1003.7" cy="1046.3" r="5.8"/><circle cx="991.4" cy="1057.0" r="5.8"/><circle cx="1003.7" cy="1060.4" r="5.8"/><circle cx="942.5" cy="1068.8" r="5.8"/><circle cx="954.8" cy="1071.1" r="5.8"/><circle cx="967.0" cy="1068.8" r="5.8"/><circle cx="979.2" cy="1067.0" r="5.8"/><circle cx="991.4" cy="1073.2" r="5.8"/><circle cx="1003.7" cy="1073.2" r="5.8"/><circle cx="1015.9" cy="1078.2" r="5.8"/><circle cx="1028.1" cy="1079.2" r="5.8"/><circle cx="954.8" cy="1084.8" r="5.8"/><circle cx="967.0" cy="1087.3" r="5.8"/><circle cx="979.2" cy="1080.7" r="5.8"/><circle cx="991.4" cy="1088.6" r="5.8"/><circle cx="1003.7" cy="1085.8" r="5.8"/><circle cx="1015.9" cy="1090.5" r="5.8"/><circle cx="1003.7" cy="1105.5" r="5.8"/><circle cx="979.2" cy="1108.3" r="5.8"/><circle cx="967.0" cy="1111.2" r="5.8"/><circle cx="954.8" cy="1113.6" r="5.8"/><circle cx="991.4" cy="1118.3" r="5.8"/><circle cx="1015.9" cy="1113.4" r="5.8"/><circle cx="967.0" cy="1124.3" r="5.8"/><circle cx="979.2" cy="1123.9" r="5.8"/><circle cx="1003.7" cy="1123.4" r="5.8"/><circle cx="1003.7" cy="1137.1" r="5.8"/><circle cx="954.8" cy="1140.3" r="5.8"/><circle cx="967.0" cy="1140.3" r="5.8"/><circle cx="979.2" cy="1144.5" r="5.8"/><circle cx="991.4" cy="1147.5" r="5.8"/><circle cx="1003.7" cy="1150.1" r="5.8"/><circle cx="1015.9" cy="1146.3" r="5.8"/><circle cx="942.5" cy="1160.1" r="5.8"/><circle cx="954.8" cy="1157.6" r="5.8"/><circle cx="979.2" cy="1155.9" r="5.8"/><circle cx="967.0" cy="1165.7" r="5.8"/><circle cx="991.4" cy="1165.7" r="5.8"/><circle cx="1003.7" cy="1162.5" r="5.8"/><circle cx="1015.9" cy="1158.7" r="5.8"/><circle cx="985.2" cy="1177.9" r="5.8"/><circle cx="985.1" cy="1196.4" r="5.8"/><circle cx="1209.6" cy="830.3" r="5.8"/><circle cx="1209.6" cy="883.4" r="5.8"/><circle cx="1209.6" cy="923.8" r="5.8"/><circle cx="1203.4" cy="937.0" r="5.8"/><circle cx="1215.6" cy="940.2" r="5.8"/><circle cx="1191.2" cy="947.3" r="5.8"/><circle cx="1215.6" cy="953.2" r="5.8"/><circle cx="1227.8" cy="958.4" r="5.8"/><circle cx="1203.4" cy="963.5" r="5.8"/><circle cx="1215.6" cy="966.9" r="5.8"/><circle cx="1178.9" cy="974.2" r="5.8"/><circle cx="1203.4" cy="981.4" r="5.8"/><circle cx="1215.6" cy="983.6" r="5.8"/><circle cx="1227.8" cy="981.4" r="5.8"/><circle cx="1240.4" cy="982.9" r="5.8"/><circle cx="1166.7" cy="993.2" r="5.8"/><circle cx="1215.6" cy="999.2" r="5.8"/><circle cx="1166.7" cy="1007.1" r="5.8"/><circle cx="1178.9" cy="1003.6" r="5.8"/><circle cx="1191.2" cy="1004.9" r="5.8"/><circle cx="1203.4" cy="1003.9" r="5.8"/><circle cx="1227.8" cy="1006.8" r="5.8"/><circle cx="1240.4" cy="1008.3" r="5.8"/><circle cx="1215.6" cy="1012.4" r="5.8"/><circle cx="1203.4" cy="1015.8" r="5.8"/><circle cx="1215.6" cy="1026.0" r="5.8"/><circle cx="1203.4" cy="1037.8" r="5.8"/><circle cx="1215.6" cy="1044.0" r="5.8"/><circle cx="1240.4" cy="1042.9" r="5.8"/><circle cx="1178.9" cy="1048.5" r="5.8"/><circle cx="1227.8" cy="1051.0" r="5.8"/><circle cx="1203.4" cy="1052.5" r="5.8"/><circle cx="1240.4" cy="1058.5" r="5.8"/><circle cx="1178.9" cy="1062.3" r="5.8"/><circle cx="1203.4" cy="1065.1" r="5.8"/><circle cx="1166.7" cy="1067.9" r="5.8"/><circle cx="1191.2" cy="1070.3" r="5.8"/><circle cx="1215.6" cy="1069.8" r="5.8"/><circle cx="1252.9" cy="1067.0" r="5.8"/><circle cx="1178.9" cy="1075.0" r="5.8"/><circle cx="1203.4" cy="1077.9" r="5.8"/><circle cx="1227.8" cy="1075.4" r="5.8"/><circle cx="1240.4" cy="1076.4" r="5.8"/><circle cx="1191.2" cy="1085.2" r="5.8"/><circle cx="1215.6" cy="1086.7" r="5.8"/><circle cx="1178.9" cy="1094.8" r="5.8"/><circle cx="1191.2" cy="1098.0" r="5.8"/><circle cx="1203.4" cy="1096.1" r="5.8"/><circle cx="1227.8" cy="1103.6" r="5.8"/><circle cx="1240.4" cy="1105.1" r="5.8"/><circle cx="1252.9" cy="1104.6" r="5.8"/><circle cx="1166.7" cy="1108.0" r="5.8"/><circle cx="1178.9" cy="1111.2" r="5.8"/><circle cx="1215.6" cy="1109.8" r="5.8"/><circle cx="1191.2" cy="1115.9" r="5.8"/><circle cx="1203.4" cy="1115.5" r="5.8"/><circle cx="1227.8" cy="1115.5" r="5.8"/><circle cx="1240.4" cy="1120.6" r="5.8"/><circle cx="1215.6" cy="1123.0" r="5.8"/><circle cx="1209.6" cy="1138.2" r="5.8"/>
</g>
<line x1="809.6" y1="726.9" x2="809.6" y2="1265.4" stroke="#111" stroke-width="1.8"/>
<line x1="797.6" y1="1265.4" x2="1273.3" y2="1265.4" stroke="#111" stroke-width="1.8"/>
<line x1="797.6" y1="727.8" x2="809.6" y2="727.8" stroke="#111" stroke-width="1.8"/>
<text transform="translate(794.5 735.5) scale(1 1.035)" font-size="21.9" text-anchor="end">3</text>
<line x1="797.6" y1="817.4" x2="809.6" y2="817.4" stroke="#111" stroke-width="1.8"/>
<text transform="translate(794.5 825.1) scale(1 1.035)" font-size="21.9" text-anchor="end">2</text>
<line x1="797.6" y1="907.0" x2="809.6" y2="907.0" stroke="#111" stroke-width="1.8"/>
<text transform="translate(794.5 914.7) scale(1 1.035)" font-size="21.9" text-anchor="end">1</text>
<line x1="797.6" y1="996.5999999999999" x2="809.6" y2="996.5999999999999" stroke="#111" stroke-width="1.8"/>
<text transform="translate(794.5 1004.3) scale(1 1.035)" font-size="21.9" text-anchor="end">0</text>
<line x1="797.6" y1="1086.1999999999998" x2="809.6" y2="1086.1999999999998" stroke="#111" stroke-width="1.8"/>
<text transform="translate(794.5 1093.9) scale(1 1.035)" font-size="21.9" text-anchor="end">-1</text>
<line x1="797.6" y1="1175.8" x2="809.6" y2="1175.8" stroke="#111" stroke-width="1.8"/>
<text transform="translate(794.5 1183.5) scale(1 1.035)" font-size="21.9" text-anchor="end">-2</text>
<text transform="translate(794.5 1273.1) scale(1 1.035)" font-size="21.9" text-anchor="end">-3</text>
<line x1="872.9" y1="1265.4" x2="872.9" y2="1277.4" stroke="#111" stroke-width="1.8"/>
<text transform="translate(872.9 1300.4) scale(1 1.035)" font-size="21.9" text-anchor="middle">Cluster 1</text>
<line x1="985.2" y1="1265.4" x2="985.2" y2="1277.4" stroke="#111" stroke-width="1.8"/>
<text transform="translate(985.2 1300.4) scale(1 1.035)" font-size="21.9" text-anchor="middle">Cluster 2</text>
<line x1="1097.5" y1="1265.4" x2="1097.5" y2="1277.4" stroke="#111" stroke-width="1.8"/>
<text transform="translate(1097.5 1300.4) scale(1 1.035)" font-size="21.9" text-anchor="middle">Cluster 1</text>
<line x1="1209.7" y1="1265.4" x2="1209.7" y2="1277.4" stroke="#111" stroke-width="1.8"/>
<text transform="translate(1209.7 1300.4) scale(1 1.035)" font-size="21.9" text-anchor="middle">Cluster 2</text>
<line x1="858" y1="1315.3" x2="1006.7" y2="1315.3" stroke="#d4d4d4" stroke-width="1.2"/>
<line x1="1078.6" y1="1315.3" x2="1227.6" y2="1315.3" stroke="#d4d4d4" stroke-width="1.2"/>
<text transform="translate(931.6 1348) scale(1 1.035)" font-size="23.4" text-anchor="middle">SD score</text>
<text transform="translate(1156.2 1348) scale(1 1.035)" font-size="23.4" text-anchor="middle">PS score</text>
<text transform="translate(759.3 997) rotate(-90) scale(1 1.01)" font-size="23.2" text-anchor="middle">SD or PS score</text>
<text transform="translate(858.6 847) scale(1 1.035)" font-size="26"><tspan font-style="italic">P</tspan> = 2.7x10<tspan font-size="16.8" dy="-7">-9</tspan></text>
<line x1="870.1" y1="860.2" x2="980.1" y2="860.2" stroke="#111" stroke-width="1.6"/>
<text transform="translate(1080.3 745.8) scale(1 1.035)" font-size="26"><tspan font-style="italic">P</tspan> = 6.9x10<tspan font-size="16.8" dy="-7">-3</tspan></text>
<line x1="1096.2" y1="762.1" x2="1206.6" y2="762.1" stroke="#111" stroke-width="1.6"/>
<text transform="translate(1297.6 729.6) scale(1 1)" font-size="40" text-anchor="start">d</text>
<rect x="1393.6" y="722.3" width="591.7" height="573.9000000000001" fill="none" stroke="#404040" stroke-width="1.2"/>
<path d="M1393.6 722.3V1296.2H1985.3" fill="none" stroke="#111" stroke-width="1.2"/>
<line x1="1393.6" y1="1296.2" x2="1393.6" y2="1302.5" stroke="#333" stroke-width="1.2"/>
<text transform="translate(1393.6 1327.9) scale(1 1.035)" font-size="21.2" text-anchor="middle">-0.8</text>
<line x1="1590.4" y1="1296.2" x2="1590.4" y2="1302.5" stroke="#333" stroke-width="1.2"/>
<text transform="translate(1590.4 1327.9) scale(1 1.035)" font-size="21.2" text-anchor="middle">-0.3</text>
<line x1="1787.5" y1="1296.2" x2="1787.5" y2="1302.5" stroke="#333" stroke-width="1.2"/>
<text transform="translate(1787.5 1327.9) scale(1 1.035)" font-size="21.2" text-anchor="middle">0.2</text>
<line x1="1985" y1="1296.2" x2="1985" y2="1302.5" stroke="#333" stroke-width="1.2"/>
<text transform="translate(1985 1327.9) scale(1 1.035)" font-size="21.2" text-anchor="middle">0.7</text>
<line x1="1387.3" y1="722.3" x2="1393.6" y2="722.3" stroke="#333" stroke-width="1.2"/>
<text transform="translate(1374.3 729.1) scale(1 1.035)" font-size="21.2" text-anchor="end">0.75</text>
<line x1="1387.3" y1="804.1" x2="1393.6" y2="804.1" stroke="#333" stroke-width="1.2"/>
<text transform="translate(1374.3 810.9) scale(1 1.035)" font-size="21.2" text-anchor="end">0.55</text>
<line x1="1387.3" y1="886.1" x2="1393.6" y2="886.1" stroke="#333" stroke-width="1.2"/>
<text transform="translate(1374.3 892.9) scale(1 1.035)" font-size="21.2" text-anchor="end">0.35</text>
<line x1="1387.3" y1="968.0" x2="1393.6" y2="968.0" stroke="#333" stroke-width="1.2"/>
<text transform="translate(1374.3 974.8) scale(1 1.035)" font-size="21.2" text-anchor="end">0.15</text>
<line x1="1387.3" y1="1050.1" x2="1393.6" y2="1050.1" stroke="#333" stroke-width="1.2"/>
<text transform="translate(1374.3 1056.9) scale(1 1.035)" font-size="21.2" text-anchor="end">-0.05</text>
<line x1="1387.3" y1="1131.8" x2="1393.6" y2="1131.8" stroke="#333" stroke-width="1.2"/>
<text transform="translate(1374.3 1138.6) scale(1 1.035)" font-size="21.2" text-anchor="end">-0.25</text>
<line x1="1387.3" y1="1213.8" x2="1393.6" y2="1213.8" stroke="#333" stroke-width="1.2"/>
<text transform="translate(1374.3 1220.6) scale(1 1.035)" font-size="21.2" text-anchor="end">-0.45</text>
<line x1="1387.3" y1="1296.2" x2="1393.6" y2="1296.2" stroke="#333" stroke-width="1.2"/>
<text transform="translate(1374.3 1303.0) scale(1 1.035)" font-size="21.2" text-anchor="end">-0.65</text>
<text transform="translate(1318.1 993.8) rotate(-90) scale(1 1.01)" font-size="21.7" text-anchor="middle">NMDS 2</text>
<text transform="translate(1683.2 1343.2) scale(1 1.035)" font-size="21.2" text-anchor="middle">NMDS 1</text>
<g fill="#fef0e6" stroke="#000" stroke-width="1.25">
<circle cx="1683.2" cy="748.0" r="5.9"/><circle cx="1683.7" cy="862.8" r="5.9"/><circle cx="1688.7" cy="873.1" r="5.9"/><circle cx="1574.9" cy="887.1" r="5.9"/><circle cx="1657.9" cy="885.6" r="5.9"/><circle cx="1571.1" cy="901.7" r="5.9"/><circle cx="1532.5" cy="914.0" r="5.9"/><circle cx="1609.5" cy="912.7" r="5.9"/><circle cx="1657.9" cy="914.5" r="5.9"/><circle cx="1561.6" cy="932.5" r="5.9"/><circle cx="1664.2" cy="933.5" r="5.9"/><circle cx="1513.9" cy="936.3" r="5.9"/><circle cx="1525.2" cy="977.9" r="5.9"/><circle cx="1447.7" cy="986.0" r="5.9"/><circle cx="1621.0" cy="971.9" r="5.9"/><circle cx="1589.7" cy="982.9" r="5.9"/><circle cx="1636.1" cy="984.7" r="5.9"/><circle cx="1645.6" cy="989.7" r="5.9"/><circle cx="1640.6" cy="996.7" r="5.9"/><circle cx="1542.8" cy="1017.1" r="5.9"/><circle cx="1588.4" cy="1016.6" r="5.9"/><circle cx="1525.7" cy="1023.8" r="5.9"/><circle cx="1516.5" cy="1035.9" r="5.9"/><circle cx="1497.4" cy="1039.4" r="5.9"/><circle cx="1507.4" cy="1049.2" r="5.9"/><circle cx="1577.9" cy="1043.1" r="5.9"/><circle cx="1622.8" cy="1046.1" r="5.9"/><circle cx="1644.4" cy="1044.6" r="5.9"/><circle cx="1581.4" cy="1066.5" r="5.9"/><circle cx="1630.6" cy="1072.2" r="5.9"/><circle cx="1477.6" cy="1075.7" r="5.9"/><circle cx="1592.9" cy="1079.7" r="5.9"/><circle cx="1504.7" cy="1086.3" r="5.9"/><circle cx="1547.6" cy="1085.8" r="5.9"/><circle cx="1619.5" cy="1089.3" r="5.9"/><circle cx="1637.3" cy="1095.5" r="5.9"/><circle cx="1675.5" cy="1100.8" r="5.9"/><circle cx="1524.0" cy="1102.1" r="5.9"/><circle cx="1542.0" cy="1109.8" r="5.9"/><circle cx="1520.2" cy="1114.4" r="5.9"/><circle cx="1569.6" cy="1114.9" r="5.9"/><circle cx="1619.5" cy="1135.4" r="5.9"/><circle cx="1653.6" cy="1137.7" r="5.9"/><circle cx="1578.9" cy="1152.2" r="5.9"/><circle cx="1676.2" cy="1168.5" r="5.9"/><circle cx="1585.2" cy="1172.5" r="5.9"/><circle cx="1561.1" cy="1187.3" r="5.9"/><circle cx="1719.6" cy="894.4" r="5.9"/><circle cx="1731.2" cy="944.6" r="5.9"/><circle cx="1769.3" cy="949.6" r="5.9"/><circle cx="1727.4" cy="960.4" r="5.9"/><circle cx="1692.3" cy="1040.6" r="5.9"/><circle cx="1707.3" cy="1085.3" r="5.9"/><circle cx="1803.1" cy="1148.0" r="5.9"/><circle cx="1743.7" cy="1165.5" r="5.9"/><circle cx="1893.4" cy="1205.6" r="5.9"/><circle cx="1720.9" cy="1224.5" r="5.9"/>
</g>
<g fill="#ffc000" stroke="#000" stroke-width="1.25">
<circle cx="1670.9" cy="1022.8" r="5.9"/><circle cx="1545.8" cy="1067.5" r="5.9"/><circle cx="1589.9" cy="1125.4" r="5.9"/><circle cx="1767.0" cy="878.1" r="5.9"/><circle cx="1736.7" cy="1057.9" r="5.9"/><circle cx="1690.0" cy="1136.7" r="5.9"/>
</g>
<g fill="#e87878" stroke="#000" stroke-width="1.25">
<circle cx="1557.3" cy="811.4" r="5.9"/><circle cx="1601.0" cy="825.5" r="5.9"/><circle cx="1452.0" cy="946.3" r="5.9"/><circle cx="1511.4" cy="986.0" r="5.9"/><circle cx="1610.0" cy="1236.0" r="5.9"/><circle cx="1756.0" cy="1000.8" r="5.9"/><circle cx="1695.3" cy="1117.6" r="5.9"/>
</g>
<g fill="#a86868" stroke="#000" stroke-width="1.25">
<circle cx="1627.1" cy="933.8" r="5.9"/><circle cx="1650.1" cy="1018.1" r="5.9"/><circle cx="1854.5" cy="804.6" r="5.9"/><circle cx="1749.7" cy="879.4" r="5.9"/><circle cx="1817.2" cy="876.6" r="5.9"/><circle cx="1851.3" cy="872.6" r="5.9"/><circle cx="1873.4" cy="896.4" r="5.9"/><circle cx="1881.1" cy="916.7" r="5.9"/><circle cx="1900.7" cy="925.8" r="5.9"/><circle cx="1856.3" cy="936.1" r="5.9"/><circle cx="1818.2" cy="942.3" r="5.9"/><circle cx="1910.2" cy="947.1" r="5.9"/><circle cx="1927.8" cy="955.6" r="5.9"/><circle cx="1857.1" cy="958.9" r="5.9"/><circle cx="1842.3" cy="970.9" r="5.9"/><circle cx="1932.8" cy="972.4" r="5.9"/><circle cx="1852.0" cy="979.7" r="5.9"/><circle cx="1898.7" cy="982.2" r="5.9"/><circle cx="1828.0" cy="991.7" r="5.9"/><circle cx="1933.0" cy="992.5" r="5.9"/><circle cx="1943.8" cy="996.0" r="5.9"/><circle cx="1722.1" cy="1011.3" r="5.9"/><circle cx="1821.2" cy="1017.1" r="5.9"/><circle cx="1876.6" cy="1016.3" r="5.9"/><circle cx="1732.4" cy="1032.9" r="5.9"/><circle cx="1793.4" cy="1031.8" r="5.9"/><circle cx="1827.0" cy="1030.8" r="5.9"/><circle cx="1889.4" cy="1026.3" r="5.9"/><circle cx="1931.8" cy="1036.6" r="5.9"/><circle cx="1866.3" cy="1040.6" r="5.9"/><circle cx="1895.2" cy="1046.9" r="5.9"/><circle cx="1874.6" cy="1054.7" r="5.9"/><circle cx="1807.9" cy="1063.2" r="5.9"/><circle cx="1852.3" cy="1076.5" r="5.9"/><circle cx="1801.4" cy="1090.3" r="5.9"/><circle cx="1740.7" cy="1097.8" r="5.9"/><circle cx="1782.3" cy="1096.6" r="5.9"/><circle cx="1925.5" cy="1105.6" r="5.9"/><circle cx="1825.5" cy="1113.1" r="5.9"/><circle cx="1785.1" cy="1127.1" r="5.9"/><circle cx="1751.2" cy="1129.9" r="5.9"/><circle cx="1889.2" cy="1126.1" r="5.9"/><circle cx="1873.4" cy="1129.9" r="5.9"/><circle cx="1933.0" cy="1131.4" r="5.9"/><circle cx="1913.2" cy="1144.5" r="5.9"/><circle cx="1727.4" cy="1155.5" r="5.9"/><circle cx="1687.0" cy="1178.1" r="5.9"/><circle cx="1717.1" cy="1196.4" r="5.9"/><circle cx="1691.3" cy="1203.9" r="5.9"/><circle cx="1831.2" cy="1203.6" r="5.9"/><circle cx="1857.1" cy="1270.8" r="5.9"/>
</g>
</svg></body></html>
